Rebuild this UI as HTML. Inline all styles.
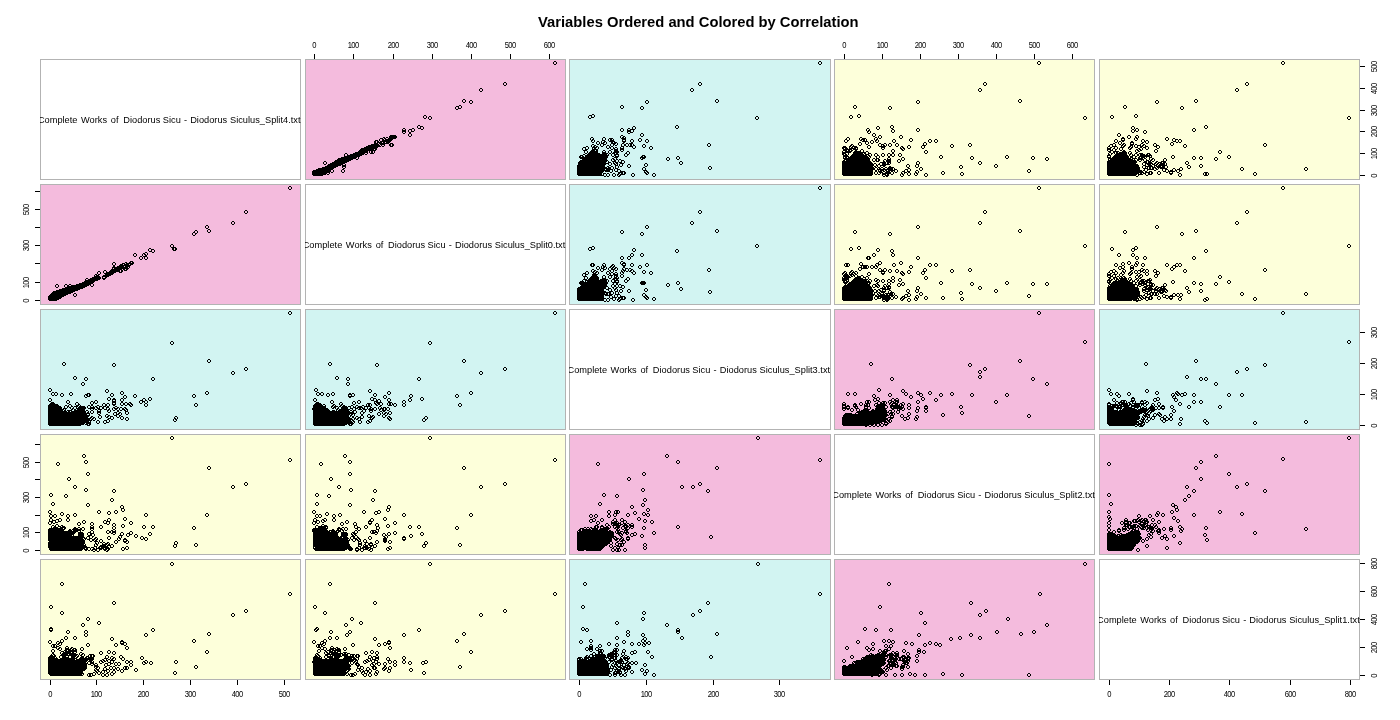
<!DOCTYPE html>
<html><head><meta charset="utf-8"><title>Variables Ordered and Colored by Correlation</title>
<style>html,body{margin:0;padding:0;background:#fff}body{width:1400px;height:720px;overflow:hidden}svg{display:block}text{font-family:"Liberation Sans",Arial,sans-serif;fill:#000}.t{font-size:8px;text-anchor:middle;letter-spacing:-0.55px}.d{font-size:9.5px;text-anchor:middle;letter-spacing:0.02px}</style></head><body>
<svg width="1400" height="720" viewBox="0 0 1400 720">
<defs><path id="c" d="M1 0h2v1h-2zM0 1h1v2h-1zM3 1h1v2h-1zM1 3h2v1h-2z"/><clipPath id="k00"><rect x="41" y="60" width="259" height="119"/></clipPath><clipPath id="t00"><rect x="40" y="59" width="261" height="121"/></clipPath><clipPath id="k10"><rect x="41" y="185" width="259" height="119"/></clipPath><clipPath id="k20"><rect x="41" y="310" width="259" height="119"/></clipPath><clipPath id="k30"><rect x="41" y="435" width="259" height="119"/></clipPath><clipPath id="k40"><rect x="41" y="560" width="259" height="119"/></clipPath><clipPath id="k01"><rect x="306" y="60" width="259" height="119"/></clipPath><clipPath id="k11"><rect x="306" y="185" width="259" height="119"/></clipPath><clipPath id="t11"><rect x="305" y="184" width="261" height="121"/></clipPath><clipPath id="k21"><rect x="306" y="310" width="259" height="119"/></clipPath><clipPath id="k31"><rect x="306" y="435" width="259" height="119"/></clipPath><clipPath id="k41"><rect x="306" y="560" width="259" height="119"/></clipPath><clipPath id="k02"><rect x="570" y="60" width="260" height="119"/></clipPath><clipPath id="k12"><rect x="570" y="185" width="260" height="119"/></clipPath><clipPath id="k22"><rect x="570" y="310" width="260" height="119"/></clipPath><clipPath id="t22"><rect x="569" y="309" width="262" height="121"/></clipPath><clipPath id="k32"><rect x="570" y="435" width="260" height="119"/></clipPath><clipPath id="k42"><rect x="570" y="560" width="260" height="119"/></clipPath><clipPath id="k03"><rect x="835" y="60" width="259" height="119"/></clipPath><clipPath id="k13"><rect x="835" y="185" width="259" height="119"/></clipPath><clipPath id="k23"><rect x="835" y="310" width="259" height="119"/></clipPath><clipPath id="k33"><rect x="835" y="435" width="259" height="119"/></clipPath><clipPath id="t33"><rect x="834" y="434" width="261" height="121"/></clipPath><clipPath id="k43"><rect x="835" y="560" width="259" height="119"/></clipPath><clipPath id="k04"><rect x="1100" y="60" width="259" height="119"/></clipPath><clipPath id="k14"><rect x="1100" y="185" width="259" height="119"/></clipPath><clipPath id="k24"><rect x="1100" y="310" width="259" height="119"/></clipPath><clipPath id="k34"><rect x="1100" y="435" width="259" height="119"/></clipPath><clipPath id="k44"><rect x="1100" y="560" width="259" height="119"/></clipPath><clipPath id="t44"><rect x="1099" y="559" width="261" height="121"/></clipPath></defs>
<rect width="1400" height="720" fill="#fff"/>
<text x="698.3" y="27.3" text-anchor="middle" font-size="14.75px" font-weight="bold">Variables Ordered and Colored by Correlation</text>
<g shape-rendering="crispEdges"><rect x="40.5" y="59.5" width="260" height="120" fill="#fff" stroke="#b3b3b3"/></g>
<g clip-path="url(#t00)"><text class="d" style="text-anchor:start" xml:space="preserve" transform="translate(0,122.9) scale(0.972,1.04)" y="0"><tspan x="38.98">Complete </tspan><tspan x="83.38">Works </tspan><tspan x="114.03">of </tspan><tspan x="126.84">Diodorus </tspan><tspan x="167.48">Sicu </tspan><tspan x="189.29">- </tspan><tspan x="195.67">Diodorus </tspan><tspan x="236.62">Siculus_Split4.txt</tspan></text></g>
<g shape-rendering="crispEdges"><rect x="305.5" y="59.5" width="260" height="120" fill="#F4BBDD" stroke="#b3b3b3"/><g clip-path="url(#k01)"><path d="M374 143h4v1h-4zM371 144h8v1h-8zM368 145h11v1h-11zM366 146h12v1h-12zM364 147h13v1h-13zM362 148h13v1h-13zM361 149h11v1h-11zM359 150h11v1h-11zM358 151h10v1h-10zM355 152h12v1h-12zM353 153h12v1h-12zM350 154h14v1h-14zM347 155h15v1h-15zM344 156h16v1h-16zM341 157h16v1h-16zM338 158h17v1h-17zM337 159h16v1h-16zM335 160h16v1h-16zM334 161h15v1h-15zM332 162h15v1h-15zM330 163h15v1h-15zM328 164h15v1h-15zM327 165h14v1h-14zM325 166h13v1h-13zM322 167h14v1h-14zM318 168h16v1h-16zM316 169h17v1h-17zM313 170h18v1h-18zM312 171h18v1h-18zM312 172h17v1h-17zM312 173h15v1h-15zM312 174h14v1h-14zM313 175h10v1h-10z"/><use href="#c" x="553" y="61"/><use href="#c" x="503" y="82"/><use href="#c" x="479" y="88"/><use href="#c" x="469" y="100"/><use href="#c" x="462" y="99"/><use href="#c" x="458" y="105"/><use href="#c" x="455" y="106"/><use href="#c" x="323" y="161"/><use href="#c" x="344" y="153"/><use href="#c" x="342" y="165"/><use href="#c" x="341" y="169"/><use href="#c" x="330" y="169"/><use href="#c" x="326" y="171"/><use href="#c" x="355" y="156"/><use href="#c" x="360" y="148"/><use href="#c" x="364" y="151"/><use href="#c" x="369" y="150"/><use href="#c" x="373" y="147"/><use href="#c" x="375" y="140"/><use href="#c" x="390" y="143"/><use href="#c" x="386" y="140"/><use href="#c" x="393" y="135"/><use href="#c" x="402" y="128"/><use href="#c" x="402" y="130"/><use href="#c" x="408" y="129"/><use href="#c" x="411" y="128"/><use href="#c" x="408" y="133"/><use href="#c" x="417" y="125"/><use href="#c" x="420" y="126"/><use href="#c" x="423" y="115"/><use href="#c" x="428" y="116"/><use href="#c" x="379" y="138"/><use href="#c" x="382" y="137"/><use href="#c" x="383" y="138"/><use href="#c" x="380" y="141"/><use href="#c" x="378" y="143"/><use href="#c" x="381" y="143"/><use href="#c" x="389" y="136"/><use href="#c" x="391" y="135"/><use href="#c" x="388" y="137"/><use href="#c" x="385" y="137"/><use href="#c" x="377" y="142"/><use href="#c" x="375" y="144"/><use href="#c" x="384" y="140"/><use href="#c" x="387" y="139"/><use href="#c" x="389" y="143"/><use href="#c" x="371" y="150"/><use href="#c" x="372" y="147"/><use href="#c" x="381" y="141"/><use href="#c" x="374" y="140"/><use href="#c" x="385" y="139"/><use href="#c" x="389" y="137"/><use href="#c" x="389" y="135"/><use href="#c" x="392" y="135"/><use href="#c" x="342" y="163"/></g></g>
<g shape-rendering="crispEdges"><rect x="569.5" y="59.5" width="261" height="120" fill="#D2F4F2" stroke="#b3b3b3"/><g clip-path="url(#k02)"><path d="M593 147h2v1h-2zM592 148h1v1h-1zM595 148h1v1h-1zM592 149h4v1h-4zM591 150h4v1h-4zM596 150h1v1h-1zM590 151h7v1h-7zM590 152h8v1h-8zM603 152h2v1h-2zM589 153h11v1h-11zM602 153h1v1h-1zM604 153h2v1h-2zM587 154h20v1h-20zM586 155h22v1h-22zM585 156h23v1h-23zM584 157h23v1h-23zM583 158h24v1h-24zM582 159h25v1h-25zM580 160h27v1h-27zM579 161h28v1h-28zM578 162h28v1h-28zM578 163h28v1h-28zM578 164h28v1h-28zM577 165h28v1h-28zM577 166h28v1h-28zM577 167h28v1h-28zM577 168h28v1h-28zM577 169h28v1h-28zM577 170h28v1h-28zM577 171h27v1h-27zM577 172h26v1h-26zM577 173h25v1h-25zM603 173h1v1h-1zM577 174h25v1h-25zM603 174h1v1h-1zM578 175h25v1h-25z"/><use href="#c" x="818" y="61"/><use href="#c" x="698" y="82"/><use href="#c" x="690" y="88"/><use href="#c" x="715" y="99"/><use href="#c" x="645" y="100"/><use href="#c" x="640" y="106"/><use href="#c" x="620" y="105"/><use href="#c" x="755" y="116"/><use href="#c" x="707" y="143"/><use href="#c" x="708" y="166"/><use href="#c" x="588" y="115"/><use href="#c" x="591" y="114"/><use href="#c" x="675" y="125"/><use href="#c" x="620" y="128"/><use href="#c" x="627" y="128"/><use href="#c" x="627" y="130"/><use href="#c" x="630" y="129"/><use href="#c" x="632" y="126"/><use href="#c" x="640" y="133"/><use href="#c" x="620" y="135"/><use href="#c" x="622" y="136"/><use href="#c" x="622" y="138"/><use href="#c" x="622" y="139"/><use href="#c" x="638" y="138"/><use href="#c" x="645" y="139"/><use href="#c" x="630" y="139"/><use href="#c" x="590" y="137"/><use href="#c" x="591" y="139"/><use href="#c" x="602" y="137"/><use href="#c" x="601" y="140"/><use href="#c" x="596" y="141"/><use href="#c" x="600" y="143"/><use href="#c" x="603" y="141"/><use href="#c" x="608" y="138"/><use href="#c" x="610" y="138"/><use href="#c" x="611" y="140"/><use href="#c" x="612" y="141"/><use href="#c" x="614" y="142"/><use href="#c" x="610" y="143"/><use href="#c" x="606" y="145"/><use href="#c" x="610" y="146"/><use href="#c" x="621" y="143"/><use href="#c" x="625" y="143"/><use href="#c" x="628" y="143"/><use href="#c" x="630" y="143"/><use href="#c" x="632" y="145"/><use href="#c" x="620" y="146"/><use href="#c" x="620" y="148"/><use href="#c" x="642" y="144"/><use href="#c" x="649" y="146"/><use href="#c" x="614" y="147"/><use href="#c" x="614" y="149"/><use href="#c" x="614" y="151"/><use href="#c" x="626" y="151"/><use href="#c" x="624" y="153"/><use href="#c" x="582" y="147"/><use href="#c" x="585" y="146"/><use href="#c" x="591" y="144"/><use href="#c" x="593" y="145"/><use href="#c" x="595" y="146"/><use href="#c" x="579" y="155"/><use href="#c" x="641" y="155"/><use href="#c" x="642" y="155"/><use href="#c" x="640" y="156"/><use href="#c" x="666" y="157"/><use href="#c" x="676" y="156"/><use href="#c" x="679" y="161"/><use href="#c" x="615" y="153"/><use href="#c" x="611" y="153"/><use href="#c" x="618" y="159"/><use href="#c" x="613" y="157"/><use href="#c" x="611" y="158"/><use href="#c" x="613" y="161"/><use href="#c" x="627" y="164"/><use href="#c" x="644" y="163"/><use href="#c" x="642" y="167"/><use href="#c" x="644" y="170"/><use href="#c" x="645" y="171"/><use href="#c" x="615" y="165"/><use href="#c" x="608" y="162"/><use href="#c" x="606" y="168"/><use href="#c" x="609" y="169"/><use href="#c" x="614" y="168"/><use href="#c" x="617" y="169"/><use href="#c" x="619" y="171"/><use href="#c" x="622" y="171"/><use href="#c" x="612" y="173"/><use href="#c" x="617" y="173"/><use href="#c" x="631" y="173"/><use href="#c" x="652" y="173"/><use href="#c" x="606" y="173"/><use href="#c" x="603" y="173"/><use href="#c" x="618" y="172"/><use href="#c" x="606" y="166"/><use href="#c" x="621" y="171"/><use href="#c" x="605" y="160"/><use href="#c" x="621" y="160"/><use href="#c" x="610" y="166"/><use href="#c" x="619" y="163"/><use href="#c" x="601" y="155"/><use href="#c" x="604" y="168"/><use href="#c" x="607" y="167"/><use href="#c" x="604" y="155"/><use href="#c" x="605" y="153"/><use href="#c" x="615" y="159"/><use href="#c" x="603" y="167"/><use href="#c" x="614" y="162"/><use href="#c" x="613" y="151"/><use href="#c" x="608" y="150"/><use href="#c" x="600" y="158"/><use href="#c" x="599" y="155"/><use href="#c" x="581" y="156"/><use href="#c" x="588" y="155"/><use href="#c" x="615" y="154"/><use href="#c" x="589" y="154"/><use href="#c" x="590" y="153"/><use href="#c" x="597" y="156"/><use href="#c" x="602" y="150"/><use href="#c" x="615" y="150"/><use href="#c" x="589" y="156"/><use href="#c" x="584" y="150"/><use href="#c" x="595" y="156"/><use href="#c" x="586" y="155"/><use href="#c" x="588" y="152"/><use href="#c" x="580" y="155"/><use href="#c" x="587" y="157"/><use href="#c" x="594" y="149"/><use href="#c" x="582" y="154"/></g></g>
<g shape-rendering="crispEdges"><rect x="834.5" y="59.5" width="260" height="120" fill="#FDFFDA" stroke="#b3b3b3"/><g clip-path="url(#k03)"><path d="M856 151h5v1h-5zM854 152h8v1h-8zM853 153h10v1h-10zM852 154h12v1h-12zM851 155h13v1h-13zM865 155h2v1h-2zM850 156h18v1h-18zM849 157h20v1h-20zM847 158h23v1h-23zM845 159h25v1h-25zM843 160h2v1h-2zM846 160h24v1h-24zM842 161h29v1h-29zM842 162h30v1h-30zM842 163h31v1h-31zM842 164h31v1h-31zM842 165h31v1h-31zM842 166h31v1h-31zM842 167h32v1h-32zM842 168h32v1h-32zM842 169h32v1h-32zM842 170h31v1h-31zM842 171h31v1h-31zM842 172h31v1h-31zM842 173h31v1h-31zM842 174h31v1h-31zM843 175h29v1h-29z"/><use href="#c" x="1037" y="61"/><use href="#c" x="983" y="82"/><use href="#c" x="978" y="88"/><use href="#c" x="1018" y="99"/><use href="#c" x="916" y="100"/><use href="#c" x="888" y="106"/><use href="#c" x="853" y="105"/><use href="#c" x="1083" y="116"/><use href="#c" x="978" y="161"/><use href="#c" x="994" y="164"/><use href="#c" x="1005" y="155"/><use href="#c" x="1031" y="156"/><use href="#c" x="1045" y="157"/><use href="#c" x="1027" y="169"/><use href="#c" x="849" y="115"/><use href="#c" x="857" y="114"/><use href="#c" x="876" y="126"/><use href="#c" x="890" y="125"/><use href="#c" x="891" y="129"/><use href="#c" x="916" y="128"/><use href="#c" x="866" y="128"/><use href="#c" x="867" y="130"/><use href="#c" x="872" y="133"/><use href="#c" x="874" y="137"/><use href="#c" x="878" y="135"/><use href="#c" x="875" y="139"/><use href="#c" x="899" y="135"/><use href="#c" x="909" y="138"/><use href="#c" x="892" y="139"/><use href="#c" x="895" y="143"/><use href="#c" x="888" y="143"/><use href="#c" x="844" y="139"/><use href="#c" x="846" y="137"/><use href="#c" x="859" y="137"/><use href="#c" x="861" y="138"/><use href="#c" x="863" y="138"/><use href="#c" x="865" y="141"/><use href="#c" x="870" y="140"/><use href="#c" x="867" y="145"/><use href="#c" x="858" y="142"/><use href="#c" x="878" y="143"/><use href="#c" x="881" y="144"/><use href="#c" x="883" y="143"/><use href="#c" x="881" y="146"/><use href="#c" x="928" y="139"/><use href="#c" x="934" y="139"/><use href="#c" x="923" y="142"/><use href="#c" x="921" y="145"/><use href="#c" x="924" y="150"/><use href="#c" x="950" y="144"/><use href="#c" x="968" y="143"/><use href="#c" x="907" y="145"/><use href="#c" x="900" y="146"/><use href="#c" x="901" y="147"/><use href="#c" x="842" y="146"/><use href="#c" x="843" y="147"/><use href="#c" x="850" y="144"/><use href="#c" x="854" y="146"/><use href="#c" x="845" y="149"/><use href="#c" x="848" y="148"/><use href="#c" x="860" y="149"/><use href="#c" x="865" y="151"/><use href="#c" x="891" y="149"/><use href="#c" x="891" y="153"/><use href="#c" x="887" y="153"/><use href="#c" x="881" y="153"/><use href="#c" x="874" y="153"/><use href="#c" x="898" y="153"/><use href="#c" x="901" y="157"/><use href="#c" x="897" y="159"/><use href="#c" x="887" y="157"/><use href="#c" x="887" y="159"/><use href="#c" x="939" y="155"/><use href="#c" x="970" y="156"/><use href="#c" x="843" y="155"/><use href="#c" x="916" y="161"/><use href="#c" x="915" y="164"/><use href="#c" x="919" y="167"/><use href="#c" x="906" y="164"/><use href="#c" x="907" y="168"/><use href="#c" x="904" y="169"/><use href="#c" x="901" y="171"/><use href="#c" x="900" y="173"/><use href="#c" x="907" y="172"/><use href="#c" x="915" y="170"/><use href="#c" x="914" y="172"/><use href="#c" x="924" y="173"/><use href="#c" x="941" y="171"/><use href="#c" x="959" y="165"/><use href="#c" x="960" y="172"/><use href="#c" x="891" y="167"/><use href="#c" x="894" y="169"/><use href="#c" x="886" y="168"/><use href="#c" x="890" y="171"/><use href="#c" x="885" y="173"/><use href="#c" x="882" y="163"/><use href="#c" x="879" y="162"/><use href="#c" x="883" y="159"/><use href="#c" x="875" y="158"/><use href="#c" x="880" y="167"/><use href="#c" x="876" y="155"/><use href="#c" x="874" y="171"/><use href="#c" x="884" y="172"/><use href="#c" x="886" y="169"/><use href="#c" x="884" y="167"/><use href="#c" x="885" y="172"/><use href="#c" x="873" y="163"/><use href="#c" x="877" y="171"/><use href="#c" x="872" y="158"/><use href="#c" x="878" y="169"/><use href="#c" x="880" y="169"/><use href="#c" x="877" y="164"/><use href="#c" x="874" y="167"/><use href="#c" x="882" y="171"/><use href="#c" x="882" y="173"/><use href="#c" x="876" y="158"/><use href="#c" x="887" y="167"/><use href="#c" x="886" y="171"/><use href="#c" x="882" y="162"/><use href="#c" x="888" y="166"/><use href="#c" x="882" y="161"/><use href="#c" x="885" y="161"/><use href="#c" x="889" y="167"/><use href="#c" x="887" y="161"/><use href="#c" x="882" y="168"/><use href="#c" x="878" y="168"/><use href="#c" x="848" y="149"/><use href="#c" x="854" y="147"/><use href="#c" x="850" y="147"/><use href="#c" x="843" y="146"/><use href="#c" x="862" y="152"/><use href="#c" x="867" y="155"/><use href="#c" x="843" y="156"/><use href="#c" x="857" y="151"/><use href="#c" x="843" y="153"/><use href="#c" x="842" y="150"/><use href="#c" x="863" y="153"/><use href="#c" x="846" y="156"/><use href="#c" x="846" y="149"/><use href="#c" x="842" y="152"/><use href="#c" x="845" y="148"/><use href="#c" x="845" y="156"/><use href="#c" x="849" y="145"/><use href="#c" x="853" y="151"/><use href="#c" x="868" y="153"/><use href="#c" x="852" y="146"/><use href="#c" x="845" y="152"/></g></g>
<g shape-rendering="crispEdges"><rect x="1099.5" y="59.5" width="260" height="120" fill="#FDFFDA" stroke="#b3b3b3"/><g clip-path="url(#k04)"><path d="M1122 151h2v1h-2zM1119 152h6v1h-6zM1117 153h2v1h-2zM1120 153h6v1h-6zM1115 154h12v1h-12zM1114 155h14v1h-14zM1113 156h16v1h-16zM1112 157h17v1h-17zM1130 157h2v1h-2zM1111 158h20v1h-20zM1132 158h1v1h-1zM1110 159h23v1h-23zM1108 160h28v1h-28zM1107 161h30v1h-30zM1107 162h30v1h-30zM1107 163h29v1h-29zM1107 164h31v1h-31zM1107 165h32v1h-32zM1107 166h32v1h-32zM1107 167h33v1h-33zM1107 168h33v1h-33zM1107 169h33v1h-33zM1107 170h33v1h-33zM1107 171h32v1h-32zM1107 172h32v1h-32zM1107 173h31v1h-31zM1107 174h30v1h-30zM1108 175h28v1h-28z"/><use href="#c" x="1281" y="61"/><use href="#c" x="1245" y="82"/><use href="#c" x="1235" y="88"/><use href="#c" x="1194" y="99"/><use href="#c" x="1155" y="100"/><use href="#c" x="1180" y="106"/><use href="#c" x="1123" y="105"/><use href="#c" x="1347" y="116"/><use href="#c" x="1263" y="143"/><use href="#c" x="1240" y="167"/><use href="#c" x="1253" y="172"/><use href="#c" x="1304" y="167"/><use href="#c" x="1110" y="115"/><use href="#c" x="1134" y="114"/><use href="#c" x="1131" y="126"/><use href="#c" x="1131" y="129"/><use href="#c" x="1135" y="128"/><use href="#c" x="1143" y="130"/><use href="#c" x="1192" y="128"/><use href="#c" x="1204" y="125"/><use href="#c" x="1117" y="133"/><use href="#c" x="1127" y="135"/><use href="#c" x="1135" y="135"/><use href="#c" x="1134" y="137"/><use href="#c" x="1121" y="137"/><use href="#c" x="1121" y="138"/><use href="#c" x="1114" y="139"/><use href="#c" x="1118" y="141"/><use href="#c" x="1122" y="143"/><use href="#c" x="1130" y="141"/><use href="#c" x="1130" y="142"/><use href="#c" x="1129" y="145"/><use href="#c" x="1134" y="144"/><use href="#c" x="1137" y="145"/><use href="#c" x="1137" y="148"/><use href="#c" x="1141" y="139"/><use href="#c" x="1145" y="140"/><use href="#c" x="1140" y="143"/><use href="#c" x="1142" y="144"/><use href="#c" x="1145" y="146"/><use href="#c" x="1165" y="137"/><use href="#c" x="1172" y="138"/><use href="#c" x="1175" y="139"/><use href="#c" x="1178" y="139"/><use href="#c" x="1170" y="142"/><use href="#c" x="1183" y="144"/><use href="#c" x="1153" y="143"/><use href="#c" x="1156" y="145"/><use href="#c" x="1154" y="149"/><use href="#c" x="1109" y="144"/><use href="#c" x="1107" y="146"/><use href="#c" x="1107" y="148"/><use href="#c" x="1114" y="146"/><use href="#c" x="1112" y="148"/><use href="#c" x="1119" y="147"/><use href="#c" x="1218" y="150"/><use href="#c" x="1227" y="155"/><use href="#c" x="1214" y="157"/><use href="#c" x="1171" y="155"/><use href="#c" x="1192" y="156"/><use href="#c" x="1199" y="156"/><use href="#c" x="1199" y="164"/><use href="#c" x="1185" y="161"/><use href="#c" x="1187" y="165"/><use href="#c" x="1163" y="158"/><use href="#c" x="1161" y="161"/><use href="#c" x="1157" y="162"/><use href="#c" x="1160" y="164"/><use href="#c" x="1107" y="155"/><use href="#c" x="1134" y="153"/><use href="#c" x="1129" y="153"/><use href="#c" x="1140" y="153"/><use href="#c" x="1146" y="153"/><use href="#c" x="1148" y="154"/><use href="#c" x="1141" y="156"/><use href="#c" x="1143" y="158"/><use href="#c" x="1149" y="157"/><use href="#c" x="1151" y="158"/><use href="#c" x="1146" y="160"/><use href="#c" x="1145" y="163"/><use href="#c" x="1151" y="164"/><use href="#c" x="1153" y="167"/><use href="#c" x="1147" y="166"/><use href="#c" x="1144" y="168"/><use href="#c" x="1149" y="171"/><use href="#c" x="1145" y="172"/><use href="#c" x="1140" y="171"/><use href="#c" x="1135" y="173"/><use href="#c" x="1142" y="170"/><use href="#c" x="1157" y="171"/><use href="#c" x="1162" y="168"/><use href="#c" x="1165" y="169"/><use href="#c" x="1169" y="170"/><use href="#c" x="1169" y="171"/><use href="#c" x="1172" y="168"/><use href="#c" x="1176" y="169"/><use href="#c" x="1179" y="167"/><use href="#c" x="1178" y="173"/><use href="#c" x="1203" y="172"/><use href="#c" x="1205" y="172"/><use href="#c" x="1138" y="171"/><use href="#c" x="1150" y="166"/><use href="#c" x="1148" y="161"/><use href="#c" x="1142" y="162"/><use href="#c" x="1142" y="154"/><use href="#c" x="1139" y="170"/><use href="#c" x="1148" y="171"/><use href="#c" x="1132" y="155"/><use href="#c" x="1147" y="162"/><use href="#c" x="1142" y="165"/><use href="#c" x="1138" y="153"/><use href="#c" x="1121" y="144"/><use href="#c" x="1128" y="146"/><use href="#c" x="1135" y="149"/><use href="#c" x="1139" y="147"/><use href="#c" x="1112" y="143"/><use href="#c" x="1108" y="152"/><use href="#c" x="1149" y="166"/><use href="#c" x="1154" y="165"/><use href="#c" x="1156" y="163"/><use href="#c" x="1154" y="162"/><use href="#c" x="1149" y="162"/><use href="#c" x="1160" y="161"/><use href="#c" x="1147" y="153"/><use href="#c" x="1141" y="154"/><use href="#c" x="1143" y="155"/><use href="#c" x="1138" y="156"/><use href="#c" x="1123" y="151"/><use href="#c" x="1128" y="151"/><use href="#c" x="1110" y="150"/><use href="#c" x="1107" y="154"/><use href="#c" x="1139" y="156"/><use href="#c" x="1116" y="151"/><use href="#c" x="1138" y="158"/><use href="#c" x="1134" y="158"/><use href="#c" x="1122" y="150"/><use href="#c" x="1114" y="151"/><use href="#c" x="1108" y="158"/><use href="#c" x="1145" y="160"/><use href="#c" x="1155" y="161"/><use href="#c" x="1163" y="162"/><use href="#c" x="1164" y="165"/><use href="#c" x="1161" y="163"/><use href="#c" x="1159" y="165"/><use href="#c" x="1160" y="165"/><use href="#c" x="1155" y="166"/></g></g>
<g shape-rendering="crispEdges"><rect x="40.5" y="184.5" width="260" height="120" fill="#F4BBDD" stroke="#b3b3b3"/><g clip-path="url(#k10)"><path d="M121 265h2v1h-2zM118 266h3v1h-3zM123 266h1v1h-1zM116 267h3v1h-3zM120 267h2v1h-2zM123 267h1v1h-1zM114 268h9v1h-9zM112 269h9v1h-9zM110 270h9v1h-9zM109 271h9v1h-9zM107 272h9v1h-9zM106 273h8v1h-8zM105 274h8v1h-8zM96 275h3v1h-3zM103 275h8v1h-8zM94 276h6v1h-6zM102 276h1v1h-1zM104 276h5v1h-5zM92 277h9v1h-9zM102 277h1v1h-1zM105 277h2v1h-2zM90 278h11v1h-11zM103 278h2v1h-2zM88 279h12v1h-12zM86 280h12v1h-12zM84 281h11v1h-11zM82 282h12v1h-12zM79 283h14v1h-14zM76 284h15v1h-15zM72 285h17v1h-17zM68 286h19v1h-19zM65 287h20v1h-20zM62 288h21v1h-21zM59 289h21v1h-21zM57 290h21v1h-21zM55 291h20v1h-20zM53 292h20v1h-20zM51 293h20v1h-20zM50 294h18v1h-18zM49 295h17v1h-17zM48 296h16v1h-16zM48 297h14v1h-14zM48 298h13v1h-13zM48 299h11v1h-11zM49 300h8v1h-8z"/><use href="#c" x="112" y="262"/><use href="#c" x="97" y="271"/><use href="#c" x="103" y="270"/><use href="#c" x="116" y="266"/><use href="#c" x="118" y="269"/><use href="#c" x="120" y="264"/><use href="#c" x="123" y="267"/><use href="#c" x="124" y="262"/><use href="#c" x="128" y="262"/><use href="#c" x="130" y="261"/><use href="#c" x="68" y="284"/><use href="#c" x="288" y="186"/><use href="#c" x="244" y="210"/><use href="#c" x="231" y="221"/><use href="#c" x="205" y="225"/><use href="#c" x="207" y="229"/><use href="#c" x="194" y="230"/><use href="#c" x="192" y="232"/><use href="#c" x="73" y="293"/><use href="#c" x="90" y="283"/><use href="#c" x="64" y="284"/><use href="#c" x="55" y="284"/><use href="#c" x="55" y="290"/><use href="#c" x="52" y="291"/><use href="#c" x="85" y="278"/><use href="#c" x="102" y="276"/><use href="#c" x="94" y="274"/><use href="#c" x="119" y="269"/><use href="#c" x="119" y="264"/><use href="#c" x="129" y="261"/><use href="#c" x="144" y="256"/><use href="#c" x="139" y="256"/><use href="#c" x="142" y="253"/><use href="#c" x="144" y="252"/><use href="#c" x="133" y="253"/><use href="#c" x="151" y="249"/><use href="#c" x="148" y="248"/><use href="#c" x="173" y="247"/><use href="#c" x="172" y="247"/><use href="#c" x="170" y="244"/><use href="#c" x="124" y="267"/><use href="#c" x="126" y="265"/><use href="#c" x="123" y="265"/><use href="#c" x="112" y="267"/><use href="#c" x="112" y="266"/><use href="#c" x="125" y="263"/><use href="#c" x="125" y="264"/><use href="#c" x="114" y="268"/><use href="#c" x="110" y="269"/><use href="#c" x="118" y="265"/><use href="#c" x="121" y="263"/></g></g>
<g shape-rendering="crispEdges"><rect x="305.5" y="184.5" width="260" height="120" fill="#fff" stroke="#b3b3b3"/></g>
<g clip-path="url(#t11)"><text class="d" style="text-anchor:start" xml:space="preserve" transform="translate(0,247.9) scale(0.972,1.04)" y="0"><tspan x="311.40">Complete </tspan><tspan x="355.80">Works </tspan><tspan x="386.46">of </tspan><tspan x="399.27">Diodorus </tspan><tspan x="439.90">Sicu </tspan><tspan x="461.71">- </tspan><tspan x="468.09">Diodorus </tspan><tspan x="509.04">Siculus_Split0.txt</tspan></text></g>
<g shape-rendering="crispEdges"><rect x="569.5" y="184.5" width="261" height="120" fill="#D2F4F2" stroke="#b3b3b3"/><g clip-path="url(#k12)"><path d="M593 273h3v1h-3zM592 274h5v1h-5zM592 275h5v1h-5zM591 276h7v1h-7zM590 277h9v1h-9zM590 278h9v1h-9zM602 278h4v1h-4zM588 279h11v1h-11zM600 279h7v1h-7zM586 280h21v1h-21zM585 281h1v1h-1zM587 281h20v1h-20zM585 282h22v1h-22zM584 283h23v1h-23zM583 284h24v1h-24zM581 285h26v1h-26zM580 286h26v1h-26zM578 287h28v1h-28zM577 288h28v1h-28zM577 289h27v1h-27zM577 290h27v1h-27zM577 291h28v1h-28zM577 292h28v1h-28zM577 293h28v1h-28zM577 294h27v1h-27zM577 295h27v1h-27zM577 296h27v1h-27zM577 297h27v1h-27zM577 298h27v1h-27zM577 299h27v1h-27zM578 300h25v1h-25z"/><use href="#c" x="818" y="186"/><use href="#c" x="698" y="210"/><use href="#c" x="690" y="221"/><use href="#c" x="715" y="229"/><use href="#c" x="645" y="225"/><use href="#c" x="640" y="232"/><use href="#c" x="620" y="230"/><use href="#c" x="755" y="244"/><use href="#c" x="707" y="268"/><use href="#c" x="708" y="290"/><use href="#c" x="588" y="247"/><use href="#c" x="591" y="246"/><use href="#c" x="675" y="249"/><use href="#c" x="620" y="256"/><use href="#c" x="627" y="256"/><use href="#c" x="630" y="253"/><use href="#c" x="632" y="248"/><use href="#c" x="640" y="253"/><use href="#c" x="620" y="261"/><use href="#c" x="622" y="262"/><use href="#c" x="622" y="267"/><use href="#c" x="622" y="263"/><use href="#c" x="638" y="265"/><use href="#c" x="645" y="263"/><use href="#c" x="630" y="263"/><use href="#c" x="590" y="263"/><use href="#c" x="591" y="263"/><use href="#c" x="602" y="263"/><use href="#c" x="601" y="265"/><use href="#c" x="596" y="266"/><use href="#c" x="600" y="268"/><use href="#c" x="603" y="266"/><use href="#c" x="608" y="267"/><use href="#c" x="610" y="265"/><use href="#c" x="611" y="264"/><use href="#c" x="612" y="266"/><use href="#c" x="614" y="267"/><use href="#c" x="610" y="269"/><use href="#c" x="606" y="271"/><use href="#c" x="610" y="272"/><use href="#c" x="621" y="269"/><use href="#c" x="625" y="268"/><use href="#c" x="628" y="268"/><use href="#c" x="630" y="269"/><use href="#c" x="632" y="271"/><use href="#c" x="620" y="271"/><use href="#c" x="620" y="274"/><use href="#c" x="642" y="270"/><use href="#c" x="649" y="271"/><use href="#c" x="614" y="272"/><use href="#c" x="614" y="274"/><use href="#c" x="614" y="277"/><use href="#c" x="626" y="277"/><use href="#c" x="624" y="279"/><use href="#c" x="582" y="273"/><use href="#c" x="585" y="271"/><use href="#c" x="591" y="269"/><use href="#c" x="593" y="270"/><use href="#c" x="595" y="271"/><use href="#c" x="579" y="281"/><use href="#c" x="641" y="281"/><use href="#c" x="642" y="281"/><use href="#c" x="640" y="281"/><use href="#c" x="666" y="283"/><use href="#c" x="676" y="281"/><use href="#c" x="679" y="287"/><use href="#c" x="615" y="279"/><use href="#c" x="611" y="279"/><use href="#c" x="618" y="284"/><use href="#c" x="613" y="282"/><use href="#c" x="611" y="284"/><use href="#c" x="613" y="286"/><use href="#c" x="627" y="289"/><use href="#c" x="644" y="288"/><use href="#c" x="642" y="293"/><use href="#c" x="644" y="295"/><use href="#c" x="645" y="296"/><use href="#c" x="615" y="291"/><use href="#c" x="608" y="288"/><use href="#c" x="606" y="292"/><use href="#c" x="609" y="295"/><use href="#c" x="614" y="294"/><use href="#c" x="617" y="294"/><use href="#c" x="619" y="296"/><use href="#c" x="622" y="296"/><use href="#c" x="612" y="297"/><use href="#c" x="617" y="298"/><use href="#c" x="631" y="298"/><use href="#c" x="652" y="297"/><use href="#c" x="606" y="298"/><use href="#c" x="603" y="298"/><use href="#c" x="618" y="297"/><use href="#c" x="621" y="296"/><use href="#c" x="605" y="286"/><use href="#c" x="621" y="285"/><use href="#c" x="610" y="291"/><use href="#c" x="619" y="289"/><use href="#c" x="601" y="280"/><use href="#c" x="604" y="292"/><use href="#c" x="607" y="292"/><use href="#c" x="604" y="281"/><use href="#c" x="605" y="279"/><use href="#c" x="615" y="284"/><use href="#c" x="603" y="291"/><use href="#c" x="614" y="288"/><use href="#c" x="613" y="277"/><use href="#c" x="608" y="275"/><use href="#c" x="600" y="283"/><use href="#c" x="599" y="280"/><use href="#c" x="581" y="281"/><use href="#c" x="588" y="280"/><use href="#c" x="615" y="280"/><use href="#c" x="589" y="279"/><use href="#c" x="590" y="279"/><use href="#c" x="597" y="282"/><use href="#c" x="602" y="275"/><use href="#c" x="615" y="276"/><use href="#c" x="589" y="281"/><use href="#c" x="584" y="276"/><use href="#c" x="595" y="282"/><use href="#c" x="586" y="281"/><use href="#c" x="588" y="278"/><use href="#c" x="580" y="281"/><use href="#c" x="587" y="281"/><use href="#c" x="594" y="275"/><use href="#c" x="582" y="279"/></g></g>
<g shape-rendering="crispEdges"><rect x="834.5" y="184.5" width="260" height="120" fill="#FDFFDA" stroke="#b3b3b3"/><g clip-path="url(#k13)"><path d="M857 276h2v1h-2zM855 277h5v1h-5zM854 278h9v1h-9zM853 279h12v1h-12zM852 280h15v1h-15zM851 281h17v1h-17zM849 282h20v1h-20zM848 283h20v1h-20zM869 283h1v1h-1zM847 284h23v1h-23zM844 285h26v1h-26zM843 286h28v1h-28zM842 287h30v1h-30zM842 288h30v1h-30zM842 289h31v1h-31zM842 290h31v1h-31zM842 291h31v1h-31zM842 292h31v1h-31zM842 293h31v1h-31zM842 294h32v1h-32zM842 295h32v1h-32zM842 296h31v1h-31zM842 297h31v1h-31zM842 298h31v1h-31zM842 299h31v1h-31zM843 300h29v1h-29z"/><use href="#c" x="1037" y="186"/><use href="#c" x="983" y="210"/><use href="#c" x="978" y="221"/><use href="#c" x="1018" y="229"/><use href="#c" x="916" y="225"/><use href="#c" x="888" y="232"/><use href="#c" x="853" y="230"/><use href="#c" x="1083" y="244"/><use href="#c" x="978" y="286"/><use href="#c" x="994" y="289"/><use href="#c" x="1005" y="281"/><use href="#c" x="1031" y="282"/><use href="#c" x="1045" y="282"/><use href="#c" x="1027" y="294"/><use href="#c" x="849" y="247"/><use href="#c" x="857" y="246"/><use href="#c" x="876" y="248"/><use href="#c" x="890" y="249"/><use href="#c" x="891" y="253"/><use href="#c" x="916" y="256"/><use href="#c" x="866" y="256"/><use href="#c" x="867" y="256"/><use href="#c" x="872" y="253"/><use href="#c" x="874" y="265"/><use href="#c" x="878" y="261"/><use href="#c" x="875" y="263"/><use href="#c" x="899" y="261"/><use href="#c" x="909" y="265"/><use href="#c" x="892" y="263"/><use href="#c" x="895" y="269"/><use href="#c" x="888" y="269"/><use href="#c" x="844" y="263"/><use href="#c" x="846" y="263"/><use href="#c" x="859" y="262"/><use href="#c" x="861" y="265"/><use href="#c" x="863" y="265"/><use href="#c" x="865" y="265"/><use href="#c" x="870" y="265"/><use href="#c" x="867" y="272"/><use href="#c" x="858" y="267"/><use href="#c" x="878" y="268"/><use href="#c" x="881" y="270"/><use href="#c" x="883" y="268"/><use href="#c" x="881" y="271"/><use href="#c" x="928" y="263"/><use href="#c" x="934" y="263"/><use href="#c" x="923" y="268"/><use href="#c" x="921" y="271"/><use href="#c" x="924" y="276"/><use href="#c" x="950" y="269"/><use href="#c" x="968" y="268"/><use href="#c" x="907" y="270"/><use href="#c" x="900" y="271"/><use href="#c" x="901" y="272"/><use href="#c" x="842" y="272"/><use href="#c" x="843" y="274"/><use href="#c" x="850" y="270"/><use href="#c" x="854" y="271"/><use href="#c" x="845" y="276"/><use href="#c" x="848" y="274"/><use href="#c" x="860" y="275"/><use href="#c" x="865" y="276"/><use href="#c" x="891" y="276"/><use href="#c" x="891" y="279"/><use href="#c" x="887" y="279"/><use href="#c" x="881" y="279"/><use href="#c" x="874" y="278"/><use href="#c" x="898" y="278"/><use href="#c" x="901" y="282"/><use href="#c" x="897" y="283"/><use href="#c" x="887" y="282"/><use href="#c" x="887" y="285"/><use href="#c" x="939" y="281"/><use href="#c" x="970" y="282"/><use href="#c" x="843" y="280"/><use href="#c" x="916" y="286"/><use href="#c" x="915" y="289"/><use href="#c" x="919" y="292"/><use href="#c" x="906" y="289"/><use href="#c" x="907" y="293"/><use href="#c" x="904" y="294"/><use href="#c" x="901" y="296"/><use href="#c" x="900" y="297"/><use href="#c" x="907" y="298"/><use href="#c" x="915" y="295"/><use href="#c" x="914" y="297"/><use href="#c" x="924" y="296"/><use href="#c" x="941" y="296"/><use href="#c" x="959" y="291"/><use href="#c" x="960" y="297"/><use href="#c" x="891" y="292"/><use href="#c" x="894" y="295"/><use href="#c" x="886" y="293"/><use href="#c" x="890" y="296"/><use href="#c" x="885" y="298"/><use href="#c" x="882" y="288"/><use href="#c" x="879" y="288"/><use href="#c" x="883" y="284"/><use href="#c" x="875" y="283"/><use href="#c" x="880" y="292"/><use href="#c" x="876" y="279"/><use href="#c" x="874" y="296"/><use href="#c" x="884" y="297"/><use href="#c" x="886" y="295"/><use href="#c" x="884" y="293"/><use href="#c" x="885" y="297"/><use href="#c" x="873" y="289"/><use href="#c" x="877" y="295"/><use href="#c" x="872" y="284"/><use href="#c" x="878" y="295"/><use href="#c" x="880" y="294"/><use href="#c" x="877" y="289"/><use href="#c" x="874" y="292"/><use href="#c" x="882" y="296"/><use href="#c" x="882" y="298"/><use href="#c" x="876" y="284"/><use href="#c" x="887" y="293"/><use href="#c" x="886" y="297"/><use href="#c" x="882" y="289"/><use href="#c" x="888" y="290"/><use href="#c" x="882" y="286"/><use href="#c" x="885" y="286"/><use href="#c" x="889" y="292"/><use href="#c" x="887" y="286"/><use href="#c" x="882" y="294"/><use href="#c" x="878" y="293"/><use href="#c" x="854" y="274"/><use href="#c" x="850" y="273"/><use href="#c" x="843" y="271"/><use href="#c" x="862" y="277"/><use href="#c" x="867" y="281"/><use href="#c" x="857" y="276"/><use href="#c" x="843" y="279"/><use href="#c" x="842" y="276"/><use href="#c" x="863" y="279"/><use href="#c" x="846" y="281"/><use href="#c" x="846" y="275"/><use href="#c" x="842" y="278"/><use href="#c" x="845" y="274"/><use href="#c" x="845" y="282"/><use href="#c" x="849" y="271"/><use href="#c" x="853" y="278"/><use href="#c" x="868" y="279"/><use href="#c" x="852" y="272"/><use href="#c" x="845" y="278"/></g></g>
<g shape-rendering="crispEdges"><rect x="1099.5" y="184.5" width="260" height="120" fill="#FDFFDA" stroke="#b3b3b3"/><g clip-path="url(#k14)"><path d="M1121 277h2v1h-2zM1119 278h6v1h-6zM1116 279h3v1h-3zM1120 279h6v1h-6zM1115 280h2v1h-2zM1118 280h10v1h-10zM1113 281h16v1h-16zM1112 282h19v1h-19zM1111 283h22v1h-22zM1110 284h24v1h-24zM1110 285h25v1h-25zM1108 286h27v1h-27zM1107 287h31v1h-31zM1107 288h32v1h-32zM1107 289h32v1h-32zM1107 290h32v1h-32zM1107 291h33v1h-33zM1107 292h33v1h-33zM1107 293h33v1h-33zM1107 294h33v1h-33zM1107 295h33v1h-33zM1107 296h32v1h-32zM1107 297h31v1h-31zM1107 298h31v1h-31zM1107 299h30v1h-30zM1108 300h24v1h-24zM1133 300h3v1h-3z"/><use href="#c" x="1281" y="186"/><use href="#c" x="1245" y="210"/><use href="#c" x="1235" y="221"/><use href="#c" x="1194" y="229"/><use href="#c" x="1155" y="225"/><use href="#c" x="1180" y="232"/><use href="#c" x="1123" y="230"/><use href="#c" x="1347" y="244"/><use href="#c" x="1263" y="268"/><use href="#c" x="1240" y="292"/><use href="#c" x="1253" y="297"/><use href="#c" x="1304" y="292"/><use href="#c" x="1110" y="247"/><use href="#c" x="1134" y="246"/><use href="#c" x="1131" y="248"/><use href="#c" x="1131" y="253"/><use href="#c" x="1135" y="256"/><use href="#c" x="1143" y="256"/><use href="#c" x="1192" y="256"/><use href="#c" x="1204" y="249"/><use href="#c" x="1117" y="253"/><use href="#c" x="1127" y="261"/><use href="#c" x="1135" y="261"/><use href="#c" x="1134" y="263"/><use href="#c" x="1121" y="262"/><use href="#c" x="1121" y="265"/><use href="#c" x="1114" y="263"/><use href="#c" x="1118" y="266"/><use href="#c" x="1122" y="269"/><use href="#c" x="1130" y="265"/><use href="#c" x="1130" y="267"/><use href="#c" x="1129" y="271"/><use href="#c" x="1134" y="270"/><use href="#c" x="1137" y="270"/><use href="#c" x="1137" y="273"/><use href="#c" x="1141" y="263"/><use href="#c" x="1145" y="269"/><use href="#c" x="1140" y="268"/><use href="#c" x="1142" y="269"/><use href="#c" x="1145" y="272"/><use href="#c" x="1165" y="263"/><use href="#c" x="1172" y="265"/><use href="#c" x="1175" y="263"/><use href="#c" x="1178" y="263"/><use href="#c" x="1170" y="267"/><use href="#c" x="1183" y="269"/><use href="#c" x="1153" y="269"/><use href="#c" x="1156" y="271"/><use href="#c" x="1154" y="274"/><use href="#c" x="1109" y="270"/><use href="#c" x="1107" y="272"/><use href="#c" x="1107" y="274"/><use href="#c" x="1114" y="271"/><use href="#c" x="1112" y="274"/><use href="#c" x="1119" y="273"/><use href="#c" x="1218" y="275"/><use href="#c" x="1227" y="280"/><use href="#c" x="1214" y="282"/><use href="#c" x="1171" y="280"/><use href="#c" x="1192" y="281"/><use href="#c" x="1199" y="282"/><use href="#c" x="1199" y="289"/><use href="#c" x="1185" y="286"/><use href="#c" x="1187" y="290"/><use href="#c" x="1163" y="283"/><use href="#c" x="1161" y="286"/><use href="#c" x="1157" y="287"/><use href="#c" x="1160" y="289"/><use href="#c" x="1107" y="280"/><use href="#c" x="1134" y="279"/><use href="#c" x="1129" y="279"/><use href="#c" x="1140" y="279"/><use href="#c" x="1146" y="279"/><use href="#c" x="1148" y="278"/><use href="#c" x="1141" y="282"/><use href="#c" x="1143" y="283"/><use href="#c" x="1149" y="282"/><use href="#c" x="1151" y="283"/><use href="#c" x="1146" y="285"/><use href="#c" x="1145" y="288"/><use href="#c" x="1151" y="289"/><use href="#c" x="1153" y="292"/><use href="#c" x="1147" y="291"/><use href="#c" x="1144" y="293"/><use href="#c" x="1149" y="296"/><use href="#c" x="1145" y="297"/><use href="#c" x="1140" y="296"/><use href="#c" x="1135" y="297"/><use href="#c" x="1142" y="295"/><use href="#c" x="1157" y="296"/><use href="#c" x="1162" y="294"/><use href="#c" x="1165" y="295"/><use href="#c" x="1169" y="295"/><use href="#c" x="1169" y="296"/><use href="#c" x="1172" y="293"/><use href="#c" x="1176" y="293"/><use href="#c" x="1179" y="293"/><use href="#c" x="1178" y="297"/><use href="#c" x="1203" y="298"/><use href="#c" x="1205" y="297"/><use href="#c" x="1138" y="297"/><use href="#c" x="1150" y="292"/><use href="#c" x="1148" y="287"/><use href="#c" x="1142" y="287"/><use href="#c" x="1142" y="279"/><use href="#c" x="1139" y="295"/><use href="#c" x="1148" y="296"/><use href="#c" x="1132" y="281"/><use href="#c" x="1147" y="287"/><use href="#c" x="1142" y="289"/><use href="#c" x="1138" y="278"/><use href="#c" x="1135" y="298"/><use href="#c" x="1121" y="271"/><use href="#c" x="1128" y="272"/><use href="#c" x="1135" y="275"/><use href="#c" x="1139" y="274"/><use href="#c" x="1112" y="269"/><use href="#c" x="1108" y="278"/><use href="#c" x="1149" y="292"/><use href="#c" x="1154" y="289"/><use href="#c" x="1156" y="288"/><use href="#c" x="1154" y="287"/><use href="#c" x="1149" y="287"/><use href="#c" x="1160" y="286"/><use href="#c" x="1149" y="283"/><use href="#c" x="1147" y="279"/><use href="#c" x="1141" y="280"/><use href="#c" x="1143" y="281"/><use href="#c" x="1138" y="281"/><use href="#c" x="1123" y="277"/><use href="#c" x="1128" y="277"/><use href="#c" x="1110" y="276"/><use href="#c" x="1107" y="279"/><use href="#c" x="1139" y="281"/><use href="#c" x="1116" y="276"/><use href="#c" x="1138" y="283"/><use href="#c" x="1134" y="284"/><use href="#c" x="1122" y="276"/><use href="#c" x="1114" y="277"/><use href="#c" x="1108" y="284"/><use href="#c" x="1154" y="290"/><use href="#c" x="1145" y="286"/><use href="#c" x="1155" y="286"/><use href="#c" x="1148" y="286"/><use href="#c" x="1163" y="288"/><use href="#c" x="1164" y="289"/><use href="#c" x="1161" y="288"/><use href="#c" x="1159" y="290"/><use href="#c" x="1160" y="290"/><use href="#c" x="1155" y="292"/></g></g>
<g shape-rendering="crispEdges"><rect x="40.5" y="309.5" width="260" height="120" fill="#D2F4F2" stroke="#b3b3b3"/><g clip-path="url(#k20)"><path d="M52 403h3v1h-3zM51 404h7v1h-7zM50 405h9v1h-9zM49 406h10v1h-10zM80 406h3v1h-3zM48 407h13v1h-13zM79 407h2v1h-2zM82 407h2v1h-2zM48 408h14v1h-14zM78 408h6v1h-6zM48 409h14v1h-14zM77 409h6v1h-6zM84 409h1v1h-1zM48 410h15v1h-15zM67 410h4v1h-4zM74 410h11v1h-11zM48 411h19v1h-19zM68 411h2v1h-2zM71 411h14v1h-14zM48 412h37v1h-37zM48 413h37v1h-37zM48 414h37v1h-37zM48 415h38v1h-38zM48 416h38v1h-38zM48 417h38v1h-38zM48 418h39v1h-39zM48 419h39v1h-39zM48 420h38v1h-38zM48 421h38v1h-38zM48 422h38v1h-38zM48 423h37v1h-37zM48 424h36v1h-36zM49 425h32v1h-32z"/><use href="#c" x="94" y="406"/><use href="#c" x="97" y="409"/><use href="#c" x="80" y="412"/><use href="#c" x="86" y="413"/><use href="#c" x="84" y="421"/><use href="#c" x="86" y="418"/><use href="#c" x="87" y="405"/><use href="#c" x="89" y="417"/><use href="#c" x="90" y="416"/><use href="#c" x="82" y="406"/><use href="#c" x="83" y="413"/><use href="#c" x="97" y="411"/><use href="#c" x="96" y="405"/><use href="#c" x="85" y="417"/><use href="#c" x="96" y="420"/><use href="#c" x="83" y="414"/><use href="#c" x="85" y="419"/><use href="#c" x="92" y="417"/><use href="#c" x="86" y="422"/><use href="#c" x="82" y="418"/><use href="#c" x="98" y="415"/><use href="#c" x="87" y="420"/><use href="#c" x="288" y="311"/><use href="#c" x="244" y="367"/><use href="#c" x="231" y="371"/><use href="#c" x="207" y="359"/><use href="#c" x="205" y="391"/><use href="#c" x="192" y="394"/><use href="#c" x="194" y="403"/><use href="#c" x="170" y="341"/><use href="#c" x="112" y="363"/><use href="#c" x="62" y="362"/><use href="#c" x="173" y="418"/><use href="#c" x="174" y="416"/><use href="#c" x="151" y="377"/><use href="#c" x="144" y="403"/><use href="#c" x="144" y="400"/><use href="#c" x="139" y="400"/><use href="#c" x="142" y="398"/><use href="#c" x="148" y="397"/><use href="#c" x="133" y="394"/><use href="#c" x="129" y="403"/><use href="#c" x="128" y="402"/><use href="#c" x="124" y="402"/><use href="#c" x="120" y="402"/><use href="#c" x="123" y="395"/><use href="#c" x="120" y="391"/><use href="#c" x="120" y="398"/><use href="#c" x="125" y="417"/><use href="#c" x="120" y="416"/><use href="#c" x="125" y="411"/><use href="#c" x="118" y="412"/><use href="#c" x="116" y="414"/><use href="#c" x="113" y="412"/><use href="#c" x="116" y="411"/><use href="#c" x="124" y="408"/><use href="#c" x="123" y="407"/><use href="#c" x="119" y="407"/><use href="#c" x="116" y="407"/><use href="#c" x="114" y="406"/><use href="#c" x="112" y="407"/><use href="#c" x="107" y="409"/><use href="#c" x="106" y="407"/><use href="#c" x="112" y="402"/><use href="#c" x="112" y="401"/><use href="#c" x="112" y="399"/><use href="#c" x="112" y="398"/><use href="#c" x="107" y="397"/><use href="#c" x="106" y="403"/><use href="#c" x="102" y="403"/><use href="#c" x="110" y="393"/><use href="#c" x="105" y="389"/><use href="#c" x="103" y="406"/><use href="#c" x="99" y="406"/><use href="#c" x="94" y="400"/><use href="#c" x="90" y="401"/><use href="#c" x="103" y="420"/><use href="#c" x="106" y="419"/><use href="#c" x="110" y="416"/><use href="#c" x="107" y="415"/><use href="#c" x="105" y="414"/><use href="#c" x="87" y="422"/><use href="#c" x="87" y="393"/><use href="#c" x="86" y="393"/><use href="#c" x="84" y="394"/><use href="#c" x="81" y="382"/><use href="#c" x="84" y="377"/><use href="#c" x="73" y="376"/><use href="#c" x="90" y="405"/><use href="#c" x="90" y="407"/><use href="#c" x="77" y="404"/><use href="#c" x="81" y="406"/><use href="#c" x="79" y="407"/><use href="#c" x="73" y="406"/><use href="#c" x="66" y="400"/><use href="#c" x="69" y="392"/><use href="#c" x="60" y="393"/><use href="#c" x="54" y="392"/><use href="#c" x="51" y="392"/><use href="#c" x="64" y="405"/><use href="#c" x="71" y="408"/><use href="#c" x="59" y="409"/><use href="#c" x="55" y="408"/><use href="#c" x="58" y="406"/><use href="#c" x="55" y="404"/><use href="#c" x="52" y="403"/><use href="#c" x="51" y="402"/><use href="#c" x="48" y="407"/><use href="#c" x="48" y="404"/><use href="#c" x="48" y="398"/><use href="#c" x="48" y="388"/><use href="#c" x="48" y="409"/><use href="#c" x="48" y="411"/><use href="#c" x="49" y="404"/><use href="#c" x="61" y="409"/><use href="#c" x="50" y="402"/><use href="#c" x="76" y="410"/><use href="#c" x="75" y="402"/><use href="#c" x="62" y="408"/><use href="#c" x="68" y="404"/><use href="#c" x="86" y="412"/><use href="#c" x="59" y="410"/><use href="#c" x="85" y="410"/><use href="#c" x="90" y="410"/><use href="#c" x="76" y="405"/><use href="#c" x="61" y="411"/><use href="#c" x="70" y="406"/></g></g>
<g shape-rendering="crispEdges"><rect x="305.5" y="309.5" width="260" height="120" fill="#D2F4F2" stroke="#b3b3b3"/><g clip-path="url(#k21)"><path d="M317 403h3v1h-3zM316 404h5v1h-5zM314 405h9v1h-9zM313 406h12v1h-12zM344 406h2v1h-2zM313 407h13v1h-13zM343 407h4v1h-4zM313 408h14v1h-14zM342 408h6v1h-6zM313 409h15v1h-15zM341 409h8v1h-8zM313 410h15v1h-15zM332 410h3v1h-3zM338 410h11v1h-11zM313 411h36v1h-36zM313 412h37v1h-37zM313 413h37v1h-37zM313 414h36v1h-36zM313 415h36v1h-36zM313 416h36v1h-36zM313 417h37v1h-37zM313 418h37v1h-37zM313 419h37v1h-37zM313 420h37v1h-37zM313 421h36v1h-36zM313 422h36v1h-36zM313 423h35v1h-35zM313 424h34v1h-34zM314 425h31v1h-31z"/><use href="#c" x="359" y="406"/><use href="#c" x="362" y="409"/><use href="#c" x="345" y="412"/><use href="#c" x="351" y="413"/><use href="#c" x="347" y="421"/><use href="#c" x="349" y="418"/><use href="#c" x="350" y="405"/><use href="#c" x="351" y="417"/><use href="#c" x="355" y="416"/><use href="#c" x="347" y="406"/><use href="#c" x="345" y="413"/><use href="#c" x="360" y="411"/><use href="#c" x="361" y="405"/><use href="#c" x="347" y="417"/><use href="#c" x="358" y="420"/><use href="#c" x="347" y="414"/><use href="#c" x="350" y="419"/><use href="#c" x="357" y="417"/><use href="#c" x="349" y="422"/><use href="#c" x="344" y="418"/><use href="#c" x="360" y="415"/><use href="#c" x="351" y="420"/><use href="#c" x="553" y="311"/><use href="#c" x="503" y="367"/><use href="#c" x="479" y="371"/><use href="#c" x="462" y="359"/><use href="#c" x="469" y="391"/><use href="#c" x="455" y="394"/><use href="#c" x="458" y="403"/><use href="#c" x="428" y="341"/><use href="#c" x="375" y="363"/><use href="#c" x="328" y="362"/><use href="#c" x="422" y="418"/><use href="#c" x="424" y="416"/><use href="#c" x="417" y="377"/><use href="#c" x="402" y="403"/><use href="#c" x="402" y="400"/><use href="#c" x="408" y="398"/><use href="#c" x="420" y="397"/><use href="#c" x="409" y="394"/><use href="#c" x="393" y="403"/><use href="#c" x="389" y="402"/><use href="#c" x="379" y="402"/><use href="#c" x="387" y="402"/><use href="#c" x="383" y="395"/><use href="#c" x="387" y="391"/><use href="#c" x="387" y="398"/><use href="#c" x="388" y="417"/><use href="#c" x="387" y="416"/><use href="#c" x="388" y="411"/><use href="#c" x="384" y="412"/><use href="#c" x="382" y="414"/><use href="#c" x="377" y="412"/><use href="#c" x="382" y="411"/><use href="#c" x="379" y="408"/><use href="#c" x="383" y="407"/><use href="#c" x="386" y="407"/><use href="#c" x="382" y="407"/><use href="#c" x="378" y="406"/><use href="#c" x="373" y="407"/><use href="#c" x="369" y="409"/><use href="#c" x="369" y="407"/><use href="#c" x="375" y="402"/><use href="#c" x="374" y="401"/><use href="#c" x="377" y="399"/><use href="#c" x="373" y="398"/><use href="#c" x="370" y="397"/><use href="#c" x="368" y="403"/><use href="#c" x="366" y="403"/><use href="#c" x="373" y="393"/><use href="#c" x="368" y="389"/><use href="#c" x="367" y="406"/><use href="#c" x="364" y="406"/><use href="#c" x="357" y="406"/><use href="#c" x="357" y="400"/><use href="#c" x="352" y="401"/><use href="#c" x="366" y="420"/><use href="#c" x="368" y="419"/><use href="#c" x="370" y="416"/><use href="#c" x="371" y="415"/><use href="#c" x="367" y="414"/><use href="#c" x="348" y="422"/><use href="#c" x="351" y="393"/><use href="#c" x="348" y="393"/><use href="#c" x="348" y="394"/><use href="#c" x="346" y="382"/><use href="#c" x="346" y="377"/><use href="#c" x="335" y="376"/><use href="#c" x="355" y="405"/><use href="#c" x="352" y="407"/><use href="#c" x="340" y="404"/><use href="#c" x="344" y="406"/><use href="#c" x="342" y="407"/><use href="#c" x="338" y="406"/><use href="#c" x="330" y="400"/><use href="#c" x="331" y="392"/><use href="#c" x="326" y="393"/><use href="#c" x="320" y="392"/><use href="#c" x="316" y="392"/><use href="#c" x="331" y="405"/><use href="#c" x="336" y="408"/><use href="#c" x="324" y="409"/><use href="#c" x="319" y="408"/><use href="#c" x="322" y="406"/><use href="#c" x="322" y="404"/><use href="#c" x="318" y="403"/><use href="#c" x="316" y="402"/><use href="#c" x="312" y="407"/><use href="#c" x="313" y="404"/><use href="#c" x="313" y="398"/><use href="#c" x="314" y="388"/><use href="#c" x="313" y="409"/><use href="#c" x="313" y="411"/><use href="#c" x="314" y="404"/><use href="#c" x="326" y="409"/><use href="#c" x="315" y="402"/><use href="#c" x="340" y="410"/><use href="#c" x="339" y="402"/><use href="#c" x="325" y="408"/><use href="#c" x="332" y="404"/><use href="#c" x="349" y="412"/><use href="#c" x="322" y="410"/><use href="#c" x="323" y="409"/><use href="#c" x="349" y="410"/><use href="#c" x="353" y="410"/><use href="#c" x="342" y="405"/><use href="#c" x="326" y="411"/><use href="#c" x="335" y="406"/></g></g>
<g shape-rendering="crispEdges"><rect x="569.5" y="309.5" width="261" height="120" fill="#fff" stroke="#b3b3b3"/></g>
<g clip-path="url(#t22)"><text class="d" style="text-anchor:start" xml:space="preserve" transform="translate(0,372.9) scale(0.972,1.04)" y="0"><tspan x="583.83">Complete </tspan><tspan x="628.22">Works </tspan><tspan x="658.88">of </tspan><tspan x="671.69">Diodorus </tspan><tspan x="712.32">Sicu </tspan><tspan x="734.13">- </tspan><tspan x="740.51">Diodorus </tspan><tspan x="781.46">Siculus_Split3.txt</tspan></text></g>
<g shape-rendering="crispEdges"><rect x="834.5" y="309.5" width="260" height="120" fill="#F4BBDD" stroke="#b3b3b3"/><g clip-path="url(#k23)"><path d="M881 403h2v1h-2zM880 404h4v1h-4zM878 405h7v1h-7zM877 406h8v1h-8zM876 407h8v1h-8zM875 408h10v1h-10zM863 409h4v1h-4zM872 409h2v1h-2zM875 409h11v1h-11zM861 410h8v1h-8zM871 410h16v1h-16zM859 411h28v1h-28zM856 412h33v1h-33zM845 413h7v1h-7zM855 413h1v1h-1zM858 413h29v1h-29zM889 413h1v1h-1zM844 414h44v1h-44zM889 414h1v1h-1zM843 415h46v1h-46zM843 416h44v1h-44zM842 417h44v1h-44zM842 418h45v1h-45zM842 419h45v1h-45zM842 420h44v1h-44zM842 421h43v1h-43zM842 422h40v1h-40zM842 423h38v1h-38zM842 424h32v1h-32zM843 425h24v1h-24z"/><use href="#c" x="1037" y="311"/><use href="#c" x="1083" y="340"/><use href="#c" x="1018" y="359"/><use href="#c" x="983" y="367"/><use href="#c" x="978" y="370"/><use href="#c" x="978" y="375"/><use href="#c" x="1031" y="377"/><use href="#c" x="1045" y="382"/><use href="#c" x="1005" y="393"/><use href="#c" x="994" y="400"/><use href="#c" x="1027" y="414"/><use href="#c" x="869" y="362"/><use href="#c" x="968" y="363"/><use href="#c" x="890" y="377"/><use href="#c" x="877" y="388"/><use href="#c" x="846" y="392"/><use href="#c" x="853" y="392"/><use href="#c" x="872" y="394"/><use href="#c" x="876" y="397"/><use href="#c" x="873" y="398"/><use href="#c" x="888" y="393"/><use href="#c" x="901" y="389"/><use href="#c" x="904" y="392"/><use href="#c" x="909" y="395"/><use href="#c" x="916" y="391"/><use href="#c" x="919" y="393"/><use href="#c" x="921" y="397"/><use href="#c" x="928" y="391"/><use href="#c" x="939" y="393"/><use href="#c" x="950" y="392"/><use href="#c" x="970" y="393"/><use href="#c" x="934" y="398"/><use href="#c" x="916" y="400"/><use href="#c" x="907" y="403"/><use href="#c" x="907" y="406"/><use href="#c" x="916" y="406"/><use href="#c" x="915" y="409"/><use href="#c" x="924" y="405"/><use href="#c" x="924" y="406"/><use href="#c" x="924" y="409"/><use href="#c" x="959" y="405"/><use href="#c" x="960" y="411"/><use href="#c" x="941" y="413"/><use href="#c" x="907" y="412"/><use href="#c" x="906" y="416"/><use href="#c" x="903" y="417"/><use href="#c" x="900" y="414"/><use href="#c" x="915" y="415"/><use href="#c" x="914" y="417"/><use href="#c" x="891" y="398"/><use href="#c" x="895" y="398"/><use href="#c" x="888" y="400"/><use href="#c" x="892" y="402"/><use href="#c" x="901" y="402"/><use href="#c" x="899" y="403"/><use href="#c" x="901" y="407"/><use href="#c" x="897" y="407"/><use href="#c" x="895" y="404"/><use href="#c" x="891" y="406"/><use href="#c" x="842" y="402"/><use href="#c" x="842" y="404"/><use href="#c" x="842" y="407"/><use href="#c" x="846" y="406"/><use href="#c" x="853" y="403"/><use href="#c" x="854" y="405"/><use href="#c" x="859" y="402"/><use href="#c" x="865" y="400"/><use href="#c" x="867" y="400"/><use href="#c" x="866" y="403"/><use href="#c" x="867" y="406"/><use href="#c" x="865" y="409"/><use href="#c" x="850" y="408"/><use href="#c" x="856" y="408"/><use href="#c" x="881" y="401"/><use href="#c" x="883" y="401"/><use href="#c" x="879" y="403"/><use href="#c" x="880" y="405"/><use href="#c" x="891" y="409"/><use href="#c" x="891" y="412"/><use href="#c" x="888" y="410"/><use href="#c" x="890" y="415"/><use href="#c" x="887" y="417"/><use href="#c" x="886" y="420"/><use href="#c" x="884" y="422"/><use href="#c" x="880" y="423"/><use href="#c" x="876" y="423"/><use href="#c" x="872" y="423"/><use href="#c" x="868" y="423"/><use href="#c" x="864" y="423"/><use href="#c" x="895" y="405"/><use href="#c" x="890" y="414"/><use href="#c" x="896" y="410"/><use href="#c" x="896" y="405"/><use href="#c" x="889" y="412"/><use href="#c" x="891" y="405"/><use href="#c" x="890" y="405"/><use href="#c" x="894" y="401"/><use href="#c" x="888" y="419"/><use href="#c" x="890" y="401"/><use href="#c" x="884" y="421"/><use href="#c" x="842" y="405"/><use href="#c" x="864" y="405"/><use href="#c" x="884" y="405"/><use href="#c" x="900" y="405"/><use href="#c" x="853" y="404"/><use href="#c" x="864" y="406"/><use href="#c" x="874" y="403"/><use href="#c" x="889" y="402"/><use href="#c" x="846" y="405"/><use href="#c" x="895" y="400"/><use href="#c" x="864" y="403"/><use href="#c" x="880" y="404"/><use href="#c" x="893" y="405"/><use href="#c" x="894" y="405"/><use href="#c" x="899" y="406"/><use href="#c" x="877" y="401"/><use href="#c" x="876" y="404"/><use href="#c" x="898" y="406"/></g></g>
<g shape-rendering="crispEdges"><rect x="1099.5" y="309.5" width="260" height="120" fill="#D2F4F2" stroke="#b3b3b3"/><g clip-path="url(#k24)"><path d="M1108 405h2v1h-2zM1107 406h4v1h-4zM1107 407h5v1h-5zM1142 407h2v1h-2zM1107 408h6v1h-6zM1127 408h6v1h-6zM1141 408h4v1h-4zM1107 409h7v1h-7zM1123 409h5v1h-5zM1129 409h7v1h-7zM1140 409h6v1h-6zM1107 410h10v1h-10zM1119 410h28v1h-28zM1107 411h40v1h-40zM1107 412h39v1h-39zM1107 413h35v1h-35zM1107 414h33v1h-33zM1107 415h32v1h-32zM1107 416h33v1h-33zM1107 417h33v1h-33zM1107 418h33v1h-33zM1107 419h32v1h-32zM1107 420h30v1h-30zM1107 421h29v1h-29zM1137 421h1v1h-1zM1107 422h28v1h-28zM1136 422h2v1h-2zM1107 423h30v1h-30zM1108 424h28v1h-28zM1109 425h26v1h-26z"/><use href="#c" x="1281" y="311"/><use href="#c" x="1347" y="340"/><use href="#c" x="1194" y="359"/><use href="#c" x="1144" y="362"/><use href="#c" x="1263" y="363"/><use href="#c" x="1245" y="367"/><use href="#c" x="1240" y="393"/><use href="#c" x="1253" y="421"/><use href="#c" x="1304" y="420"/><use href="#c" x="1235" y="370"/><use href="#c" x="1185" y="375"/><use href="#c" x="1199" y="377"/><use href="#c" x="1204" y="377"/><use href="#c" x="1214" y="382"/><use href="#c" x="1145" y="389"/><use href="#c" x="1155" y="391"/><use href="#c" x="1107" y="388"/><use href="#c" x="1109" y="392"/><use href="#c" x="1115" y="392"/><use href="#c" x="1117" y="394"/><use href="#c" x="1127" y="392"/><use href="#c" x="1112" y="398"/><use href="#c" x="1131" y="397"/><use href="#c" x="1131" y="398"/><use href="#c" x="1171" y="393"/><use href="#c" x="1172" y="395"/><use href="#c" x="1174" y="398"/><use href="#c" x="1175" y="391"/><use href="#c" x="1176" y="392"/><use href="#c" x="1180" y="393"/><use href="#c" x="1183" y="392"/><use href="#c" x="1192" y="393"/><use href="#c" x="1227" y="393"/><use href="#c" x="1153" y="398"/><use href="#c" x="1156" y="397"/><use href="#c" x="1157" y="402"/><use href="#c" x="1161" y="406"/><use href="#c" x="1154" y="406"/><use href="#c" x="1149" y="406"/><use href="#c" x="1178" y="402"/><use href="#c" x="1192" y="400"/><use href="#c" x="1199" y="400"/><use href="#c" x="1187" y="405"/><use href="#c" x="1218" y="405"/><use href="#c" x="1170" y="405"/><use href="#c" x="1172" y="409"/><use href="#c" x="1169" y="413"/><use href="#c" x="1169" y="417"/><use href="#c" x="1165" y="417"/><use href="#c" x="1163" y="415"/><use href="#c" x="1160" y="417"/><use href="#c" x="1162" y="419"/><use href="#c" x="1157" y="412"/><use href="#c" x="1158" y="413"/><use href="#c" x="1153" y="413"/><use href="#c" x="1151" y="416"/><use href="#c" x="1179" y="417"/><use href="#c" x="1178" y="422"/><use href="#c" x="1203" y="419"/><use href="#c" x="1205" y="421"/><use href="#c" x="1121" y="400"/><use href="#c" x="1122" y="402"/><use href="#c" x="1127" y="402"/><use href="#c" x="1129" y="401"/><use href="#c" x="1134" y="403"/><use href="#c" x="1135" y="404"/><use href="#c" x="1140" y="401"/><use href="#c" x="1143" y="400"/><use href="#c" x="1143" y="403"/><use href="#c" x="1115" y="405"/><use href="#c" x="1118" y="404"/><use href="#c" x="1110" y="406"/><use href="#c" x="1107" y="402"/><use href="#c" x="1149" y="409"/><use href="#c" x="1151" y="408"/><use href="#c" x="1147" y="411"/><use href="#c" x="1145" y="413"/><use href="#c" x="1142" y="415"/><use href="#c" x="1147" y="417"/><use href="#c" x="1145" y="419"/><use href="#c" x="1141" y="422"/><use href="#c" x="1138" y="420"/><use href="#c" x="1136" y="422"/><use href="#c" x="1134" y="423"/><use href="#c" x="1151" y="407"/><use href="#c" x="1124" y="405"/><use href="#c" x="1143" y="413"/><use href="#c" x="1136" y="403"/><use href="#c" x="1131" y="405"/><use href="#c" x="1146" y="409"/><use href="#c" x="1146" y="414"/><use href="#c" x="1142" y="419"/><use href="#c" x="1123" y="400"/><use href="#c" x="1110" y="404"/><use href="#c" x="1135" y="421"/><use href="#c" x="1150" y="406"/><use href="#c" x="1141" y="417"/><use href="#c" x="1143" y="406"/><use href="#c" x="1150" y="405"/><use href="#c" x="1140" y="419"/><use href="#c" x="1150" y="407"/><use href="#c" x="1140" y="423"/><use href="#c" x="1145" y="401"/><use href="#c" x="1150" y="408"/><use href="#c" x="1138" y="403"/><use href="#c" x="1140" y="400"/><use href="#c" x="1138" y="423"/><use href="#c" x="1157" y="406"/><use href="#c" x="1124" y="403"/><use href="#c" x="1137" y="406"/><use href="#c" x="1147" y="408"/><use href="#c" x="1132" y="400"/><use href="#c" x="1120" y="403"/><use href="#c" x="1128" y="404"/><use href="#c" x="1131" y="406"/><use href="#c" x="1119" y="401"/><use href="#c" x="1161" y="405"/><use href="#c" x="1151" y="403"/><use href="#c" x="1123" y="403"/><use href="#c" x="1134" y="404"/><use href="#c" x="1136" y="404"/><use href="#c" x="1120" y="400"/><use href="#c" x="1115" y="401"/><use href="#c" x="1141" y="408"/><use href="#c" x="1118" y="405"/><use href="#c" x="1127" y="407"/><use href="#c" x="1107" y="409"/><use href="#c" x="1139" y="408"/><use href="#c" x="1134" y="409"/><use href="#c" x="1117" y="408"/><use href="#c" x="1107" y="403"/><use href="#c" x="1121" y="406"/><use href="#c" x="1123" y="407"/><use href="#c" x="1114" y="404"/><use href="#c" x="1117" y="405"/><use href="#c" x="1125" y="406"/><use href="#c" x="1143" y="408"/><use href="#c" x="1126" y="406"/><use href="#c" x="1107" y="406"/><use href="#c" x="1112" y="404"/></g></g>
<g shape-rendering="crispEdges"><rect x="40.5" y="434.5" width="260" height="120" fill="#FDFFDA" stroke="#b3b3b3"/><g clip-path="url(#k30)"><path d="M58 526h2v1h-2zM54 527h4v1h-4zM60 527h2v1h-2zM53 528h10v1h-10zM49 529h14v1h-14zM48 530h16v1h-16zM68 530h4v1h-4zM48 531h25v1h-25zM48 532h25v1h-25zM80 532h2v1h-2zM48 533h25v1h-25zM79 533h4v1h-4zM48 534h25v1h-25zM79 534h4v1h-4zM48 535h24v1h-24zM73 535h1v1h-1zM78 535h6v1h-6zM48 536h36v1h-36zM48 537h37v1h-37zM48 538h35v1h-35zM84 538h2v1h-2zM48 539h36v1h-36zM85 539h1v1h-1zM48 540h37v1h-37zM49 541h36v1h-36zM48 542h37v1h-37zM48 543h37v1h-37zM48 544h36v1h-36zM85 544h1v1h-1zM48 545h38v1h-38zM48 546h37v1h-37zM48 547h36v1h-36zM49 548h35v1h-35zM49 549h34v1h-34zM50 550h32v1h-32z"/><use href="#c" x="99" y="545"/><use href="#c" x="102" y="542"/><use href="#c" x="104" y="544"/><use href="#c" x="106" y="547"/><use href="#c" x="93" y="538"/><use href="#c" x="86" y="536"/><use href="#c" x="84" y="547"/><use href="#c" x="95" y="541"/><use href="#c" x="102" y="544"/><use href="#c" x="90" y="547"/><use href="#c" x="96" y="548"/><use href="#c" x="89" y="538"/><use href="#c" x="84" y="546"/><use href="#c" x="98" y="546"/><use href="#c" x="92" y="548"/><use href="#c" x="102" y="546"/><use href="#c" x="83" y="546"/><use href="#c" x="107" y="545"/><use href="#c" x="94" y="543"/><use href="#c" x="89" y="535"/><use href="#c" x="105" y="543"/><use href="#c" x="93" y="546"/><use href="#c" x="288" y="458"/><use href="#c" x="244" y="482"/><use href="#c" x="231" y="485"/><use href="#c" x="207" y="466"/><use href="#c" x="205" y="513"/><use href="#c" x="192" y="526"/><use href="#c" x="194" y="543"/><use href="#c" x="170" y="436"/><use href="#c" x="73" y="485"/><use href="#c" x="67" y="477"/><use href="#c" x="86" y="472"/><use href="#c" x="84" y="460"/><use href="#c" x="82" y="454"/><use href="#c" x="56" y="462"/><use href="#c" x="173" y="544"/><use href="#c" x="174" y="541"/><use href="#c" x="148" y="532"/><use href="#c" x="151" y="525"/><use href="#c" x="142" y="525"/><use href="#c" x="144" y="513"/><use href="#c" x="144" y="537"/><use href="#c" x="140" y="536"/><use href="#c" x="134" y="534"/><use href="#c" x="126" y="533"/><use href="#c" x="129" y="531"/><use href="#c" x="120" y="532"/><use href="#c" x="129" y="521"/><use href="#c" x="123" y="517"/><use href="#c" x="121" y="524"/><use href="#c" x="112" y="523"/><use href="#c" x="112" y="526"/><use href="#c" x="121" y="547"/><use href="#c" x="125" y="546"/><use href="#c" x="125" y="540"/><use href="#c" x="123" y="539"/><use href="#c" x="123" y="538"/><use href="#c" x="117" y="537"/><use href="#c" x="118" y="535"/><use href="#c" x="107" y="536"/><use href="#c" x="114" y="540"/><use href="#c" x="112" y="531"/><use href="#c" x="110" y="530"/><use href="#c" x="112" y="529"/><use href="#c" x="106" y="530"/><use href="#c" x="121" y="508"/><use href="#c" x="120" y="505"/><use href="#c" x="114" y="510"/><use href="#c" x="107" y="511"/><use href="#c" x="97" y="510"/><use href="#c" x="110" y="498"/><use href="#c" x="112" y="489"/><use href="#c" x="107" y="518"/><use href="#c" x="106" y="521"/><use href="#c" x="103" y="520"/><use href="#c" x="105" y="548"/><use href="#c" x="103" y="547"/><use href="#c" x="110" y="544"/><use href="#c" x="106" y="542"/><use href="#c" x="99" y="546"/><use href="#c" x="101" y="545"/><use href="#c" x="99" y="539"/><use href="#c" x="94" y="537"/><use href="#c" x="99" y="525"/><use href="#c" x="90" y="525"/><use href="#c" x="90" y="527"/><use href="#c" x="90" y="530"/><use href="#c" x="91" y="533"/><use href="#c" x="90" y="522"/><use href="#c" x="82" y="520"/><use href="#c" x="77" y="522"/><use href="#c" x="81" y="527"/><use href="#c" x="77" y="527"/><use href="#c" x="86" y="503"/><use href="#c" x="84" y="488"/><use href="#c" x="87" y="547"/><use href="#c" x="73" y="513"/><use href="#c" x="66" y="514"/><use href="#c" x="60" y="512"/><use href="#c" x="66" y="518"/><use href="#c" x="58" y="518"/><use href="#c" x="55" y="519"/><use href="#c" x="52" y="520"/><use href="#c" x="48" y="521"/><use href="#c" x="49" y="518"/><use href="#c" x="53" y="514"/><use href="#c" x="49" y="514"/><use href="#c" x="48" y="510"/><use href="#c" x="51" y="502"/><use href="#c" x="64" y="494"/><use href="#c" x="49" y="493"/><use href="#c" x="60" y="525"/><use href="#c" x="55" y="524"/><use href="#c" x="59" y="527"/><use href="#c" x="51" y="525"/><use href="#c" x="48" y="528"/><use href="#c" x="68" y="529"/><use href="#c" x="71" y="531"/><use href="#c" x="77" y="529"/><use href="#c" x="78" y="532"/><use href="#c" x="61" y="530"/><use href="#c" x="87" y="532"/><use href="#c" x="51" y="533"/><use href="#c" x="55" y="527"/><use href="#c" x="59" y="528"/><use href="#c" x="49" y="528"/><use href="#c" x="67" y="533"/><use href="#c" x="52" y="531"/><use href="#c" x="79" y="534"/><use href="#c" x="55" y="531"/><use href="#c" x="56" y="530"/><use href="#c" x="66" y="531"/><use href="#c" x="61" y="533"/><use href="#c" x="51" y="529"/><use href="#c" x="48" y="529"/><use href="#c" x="52" y="527"/><use href="#c" x="71" y="529"/><use href="#c" x="80" y="532"/><use href="#c" x="70" y="531"/><use href="#c" x="62" y="526"/><use href="#c" x="73" y="529"/><use href="#c" x="73" y="528"/><use href="#c" x="61" y="526"/><use href="#c" x="73" y="527"/><use href="#c" x="57" y="529"/><use href="#c" x="58" y="531"/></g></g>
<g shape-rendering="crispEdges"><rect x="305.5" y="434.5" width="260" height="120" fill="#FDFFDA" stroke="#b3b3b3"/><g clip-path="url(#k31)"><path d="M319 526h2v1h-2zM322 526h2v1h-2zM318 527h8v1h-8zM318 528h7v1h-7zM326 528h1v1h-1zM314 529h13v1h-13zM313 530h15v1h-15zM332 530h2v1h-2zM313 531h17v1h-17zM331 531h4v1h-4zM313 532h24v1h-24zM344 532h3v1h-3zM313 533h25v1h-25zM343 533h5v1h-5zM313 534h25v1h-25zM343 534h2v1h-2zM346 534h2v1h-2zM313 535h25v1h-25zM341 535h7v1h-7zM313 536h26v1h-26zM340 536h7v1h-7zM313 537h29v1h-29zM343 537h5v1h-5zM313 538h36v1h-36zM313 539h35v1h-35zM349 539h1v1h-1zM313 540h37v1h-37zM313 541h36v1h-36zM313 542h36v1h-36zM313 543h36v1h-36zM313 544h37v1h-37zM313 545h37v1h-37zM313 546h36v1h-36zM313 547h1v1h-1zM315 547h34v1h-34zM313 548h35v1h-35zM314 549h33v1h-33zM315 550h30v1h-30z"/><use href="#c" x="364" y="545"/><use href="#c" x="365" y="542"/><use href="#c" x="367" y="544"/><use href="#c" x="367" y="547"/><use href="#c" x="357" y="538"/><use href="#c" x="350" y="536"/><use href="#c" x="348" y="547"/><use href="#c" x="358" y="541"/><use href="#c" x="363" y="544"/><use href="#c" x="355" y="547"/><use href="#c" x="360" y="548"/><use href="#c" x="352" y="538"/><use href="#c" x="348" y="546"/><use href="#c" x="362" y="546"/><use href="#c" x="355" y="548"/><use href="#c" x="365" y="546"/><use href="#c" x="347" y="546"/><use href="#c" x="370" y="545"/><use href="#c" x="358" y="543"/><use href="#c" x="354" y="535"/><use href="#c" x="369" y="543"/><use href="#c" x="357" y="546"/><use href="#c" x="553" y="458"/><use href="#c" x="503" y="482"/><use href="#c" x="479" y="485"/><use href="#c" x="462" y="466"/><use href="#c" x="469" y="513"/><use href="#c" x="455" y="526"/><use href="#c" x="458" y="543"/><use href="#c" x="428" y="436"/><use href="#c" x="337" y="485"/><use href="#c" x="329" y="477"/><use href="#c" x="348" y="472"/><use href="#c" x="348" y="460"/><use href="#c" x="343" y="454"/><use href="#c" x="319" y="462"/><use href="#c" x="422" y="544"/><use href="#c" x="424" y="541"/><use href="#c" x="420" y="532"/><use href="#c" x="417" y="525"/><use href="#c" x="408" y="525"/><use href="#c" x="402" y="513"/><use href="#c" x="402" y="537"/><use href="#c" x="402" y="536"/><use href="#c" x="409" y="534"/><use href="#c" x="382" y="533"/><use href="#c" x="393" y="531"/><use href="#c" x="387" y="532"/><use href="#c" x="393" y="521"/><use href="#c" x="383" y="517"/><use href="#c" x="386" y="524"/><use href="#c" x="375" y="523"/><use href="#c" x="376" y="526"/><use href="#c" x="386" y="547"/><use href="#c" x="388" y="546"/><use href="#c" x="388" y="540"/><use href="#c" x="383" y="539"/><use href="#c" x="383" y="538"/><use href="#c" x="383" y="537"/><use href="#c" x="384" y="535"/><use href="#c" x="368" y="536"/><use href="#c" x="375" y="540"/><use href="#c" x="374" y="531"/><use href="#c" x="372" y="530"/><use href="#c" x="375" y="529"/><use href="#c" x="370" y="530"/><use href="#c" x="386" y="508"/><use href="#c" x="387" y="505"/><use href="#c" x="377" y="510"/><use href="#c" x="374" y="511"/><use href="#c" x="362" y="510"/><use href="#c" x="371" y="498"/><use href="#c" x="373" y="489"/><use href="#c" x="370" y="518"/><use href="#c" x="368" y="521"/><use href="#c" x="368" y="520"/><use href="#c" x="369" y="548"/><use href="#c" x="373" y="544"/><use href="#c" x="369" y="542"/><use href="#c" x="363" y="546"/><use href="#c" x="363" y="539"/><use href="#c" x="356" y="537"/><use href="#c" x="364" y="525"/><use href="#c" x="354" y="525"/><use href="#c" x="357" y="527"/><use href="#c" x="354" y="530"/><use href="#c" x="352" y="533"/><use href="#c" x="353" y="522"/><use href="#c" x="345" y="520"/><use href="#c" x="340" y="522"/><use href="#c" x="344" y="527"/><use href="#c" x="341" y="527"/><use href="#c" x="348" y="503"/><use href="#c" x="349" y="488"/><use href="#c" x="349" y="547"/><use href="#c" x="338" y="513"/><use href="#c" x="332" y="514"/><use href="#c" x="325" y="512"/><use href="#c" x="332" y="518"/><use href="#c" x="323" y="518"/><use href="#c" x="321" y="519"/><use href="#c" x="316" y="520"/><use href="#c" x="312" y="521"/><use href="#c" x="313" y="518"/><use href="#c" x="318" y="514"/><use href="#c" x="315" y="514"/><use href="#c" x="312" y="510"/><use href="#c" x="315" y="502"/><use href="#c" x="327" y="494"/><use href="#c" x="315" y="493"/><use href="#c" x="324" y="525"/><use href="#c" x="321" y="524"/><use href="#c" x="323" y="527"/><use href="#c" x="315" y="525"/><use href="#c" x="312" y="528"/><use href="#c" x="331" y="529"/><use href="#c" x="332" y="531"/><use href="#c" x="340" y="529"/><use href="#c" x="341" y="532"/><use href="#c" x="328" y="530"/><use href="#c" x="351" y="532"/><use href="#c" x="317" y="533"/><use href="#c" x="313" y="528"/><use href="#c" x="319" y="527"/><use href="#c" x="322" y="528"/><use href="#c" x="333" y="533"/><use href="#c" x="316" y="531"/><use href="#c" x="342" y="534"/><use href="#c" x="320" y="531"/><use href="#c" x="320" y="530"/><use href="#c" x="330" y="531"/><use href="#c" x="327" y="533"/><use href="#c" x="316" y="529"/><use href="#c" x="312" y="529"/><use href="#c" x="342" y="532"/><use href="#c" x="317" y="527"/><use href="#c" x="336" y="529"/><use href="#c" x="343" y="532"/><use href="#c" x="334" y="531"/><use href="#c" x="324" y="526"/><use href="#c" x="337" y="528"/><use href="#c" x="337" y="527"/><use href="#c" x="321" y="529"/><use href="#c" x="322" y="531"/></g></g>
<g shape-rendering="crispEdges"><rect x="569.5" y="434.5" width="261" height="120" fill="#F4BBDD" stroke="#b3b3b3"/><g clip-path="url(#k32)"><path d="M604 527h3v1h-3zM591 528h6v1h-6zM601 528h7v1h-7zM584 529h7v1h-7zM592 529h6v1h-6zM599 529h10v1h-10zM582 530h26v1h-26zM609 530h2v1h-2zM579 531h34v1h-34zM578 532h36v1h-36zM577 533h37v1h-37zM577 534h37v1h-37zM577 535h37v1h-37zM577 536h37v1h-37zM577 537h36v1h-36zM577 538h35v1h-35zM577 539h35v1h-35zM577 540h33v1h-33zM611 540h1v1h-1zM577 541h34v1h-34zM577 542h33v1h-33zM577 543h32v1h-32zM577 544h31v1h-31zM577 545h30v1h-30zM577 546h28v1h-28zM577 547h27v1h-27zM577 548h26v1h-26zM577 549h25v1h-25zM578 550h6v1h-6zM586 550h15v1h-15z"/><use href="#c" x="615" y="548"/><use href="#c" x="617" y="548"/><use href="#c" x="616" y="538"/><use href="#c" x="616" y="528"/><use href="#c" x="615" y="521"/><use href="#c" x="618" y="543"/><use href="#c" x="614" y="537"/><use href="#c" x="619" y="533"/><use href="#c" x="621" y="526"/><use href="#c" x="616" y="546"/><use href="#c" x="626" y="523"/><use href="#c" x="619" y="538"/><use href="#c" x="617" y="530"/><use href="#c" x="616" y="524"/><use href="#c" x="615" y="523"/><use href="#c" x="613" y="521"/><use href="#c" x="625" y="531"/><use href="#c" x="618" y="532"/><use href="#c" x="613" y="522"/><use href="#c" x="818" y="458"/><use href="#c" x="756" y="436"/><use href="#c" x="715" y="466"/><use href="#c" x="698" y="482"/><use href="#c" x="691" y="485"/><use href="#c" x="680" y="485"/><use href="#c" x="676" y="460"/><use href="#c" x="665" y="454"/><use href="#c" x="642" y="472"/><use href="#c" x="627" y="477"/><use href="#c" x="596" y="462"/><use href="#c" x="709" y="535"/><use href="#c" x="706" y="489"/><use href="#c" x="676" y="525"/><use href="#c" x="652" y="531"/><use href="#c" x="643" y="546"/><use href="#c" x="643" y="543"/><use href="#c" x="640" y="534"/><use href="#c" x="633" y="532"/><use href="#c" x="630" y="533"/><use href="#c" x="642" y="526"/><use href="#c" x="650" y="520"/><use href="#c" x="643" y="519"/><use href="#c" x="637" y="517"/><use href="#c" x="646" y="513"/><use href="#c" x="642" y="512"/><use href="#c" x="633" y="511"/><use href="#c" x="646" y="508"/><use href="#c" x="641" y="503"/><use href="#c" x="643" y="498"/><use href="#c" x="641" y="488"/><use href="#c" x="630" y="505"/><use href="#c" x="626" y="513"/><use href="#c" x="620" y="518"/><use href="#c" x="613" y="518"/><use href="#c" x="613" y="513"/><use href="#c" x="607" y="514"/><use href="#c" x="616" y="510"/><use href="#c" x="614" y="510"/><use href="#c" x="607" y="510"/><use href="#c" x="615" y="494"/><use href="#c" x="602" y="493"/><use href="#c" x="598" y="502"/><use href="#c" x="600" y="518"/><use href="#c" x="592" y="518"/><use href="#c" x="589" y="519"/><use href="#c" x="596" y="521"/><use href="#c" x="594" y="514"/><use href="#c" x="589" y="514"/><use href="#c" x="630" y="525"/><use href="#c" x="630" y="523"/><use href="#c" x="626" y="526"/><use href="#c" x="623" y="524"/><use href="#c" x="623" y="520"/><use href="#c" x="620" y="521"/><use href="#c" x="611" y="520"/><use href="#c" x="611" y="522"/><use href="#c" x="617" y="523"/><use href="#c" x="613" y="525"/><use href="#c" x="623" y="548"/><use href="#c" x="611" y="548"/><use href="#c" x="613" y="546"/><use href="#c" x="620" y="543"/><use href="#c" x="615" y="542"/><use href="#c" x="622" y="540"/><use href="#c" x="626" y="537"/><use href="#c" x="626" y="536"/><use href="#c" x="620" y="537"/><use href="#c" x="613" y="536"/><use href="#c" x="608" y="537"/><use href="#c" x="609" y="544"/><use href="#c" x="609" y="541"/><use href="#c" x="624" y="530"/><use href="#c" x="624" y="529"/><use href="#c" x="620" y="531"/><use href="#c" x="615" y="530"/><use href="#c" x="607" y="525"/><use href="#c" x="600" y="525"/><use href="#c" x="605" y="526"/><use href="#c" x="594" y="525"/><use href="#c" x="589" y="527"/><use href="#c" x="583" y="527"/><use href="#c" x="579" y="528"/><use href="#c" x="577" y="530"/><use href="#c" x="577" y="532"/><use href="#c" x="577" y="534"/><use href="#c" x="577" y="536"/><use href="#c" x="577" y="537"/><use href="#c" x="595" y="525"/><use href="#c" x="605" y="523"/><use href="#c" x="600" y="526"/><use href="#c" x="616" y="525"/><use href="#c" x="615" y="526"/><use href="#c" x="624" y="524"/><use href="#c" x="586" y="527"/><use href="#c" x="624" y="525"/><use href="#c" x="580" y="528"/></g></g>
<g shape-rendering="crispEdges"><rect x="834.5" y="434.5" width="260" height="120" fill="#fff" stroke="#b3b3b3"/></g>
<g clip-path="url(#t33)"><text class="d" style="text-anchor:start" xml:space="preserve" transform="translate(0,497.9) scale(0.972,1.04)" y="0"><tspan x="856.25">Complete </tspan><tspan x="900.64">Works </tspan><tspan x="931.30">of </tspan><tspan x="944.11">Diodorus </tspan><tspan x="984.75">Sicu </tspan><tspan x="1006.56">- </tspan><tspan x="1012.93">Diodorus </tspan><tspan x="1053.88">Siculus_Split2.txt</tspan></text></g>
<g shape-rendering="crispEdges"><rect x="1099.5" y="434.5" width="260" height="120" fill="#F4BBDD" stroke="#b3b3b3"/><g clip-path="url(#k34)"><path d="M1132 529h2v1h-2zM1131 530h2v1h-2zM1134 530h5v1h-5zM1130 531h10v1h-10zM1110 532h2v1h-2zM1128 532h12v1h-12zM1108 533h7v1h-7zM1120 533h2v1h-2zM1126 533h15v1h-15zM1107 534h9v1h-9zM1117 534h3v1h-3zM1121 534h20v1h-20zM1107 535h11v1h-11zM1119 535h21v1h-21zM1107 536h34v1h-34zM1107 537h35v1h-35zM1107 538h35v1h-35zM1107 539h34v1h-34zM1107 540h33v1h-33zM1107 541h33v1h-33zM1107 542h32v1h-32zM1107 543h31v1h-31zM1107 544h29v1h-29zM1107 545h29v1h-29zM1107 546h28v1h-28zM1107 547h27v1h-27zM1107 548h27v1h-27zM1107 549h26v1h-26zM1108 550h24v1h-24z"/><use href="#c" x="1347" y="436"/><use href="#c" x="1281" y="457"/><use href="#c" x="1214" y="454"/><use href="#c" x="1199" y="460"/><use href="#c" x="1194" y="466"/><use href="#c" x="1227" y="472"/><use href="#c" x="1199" y="477"/><use href="#c" x="1245" y="482"/><use href="#c" x="1235" y="485"/><use href="#c" x="1185" y="485"/><use href="#c" x="1107" y="462"/><use href="#c" x="1263" y="489"/><use href="#c" x="1240" y="512"/><use href="#c" x="1253" y="531"/><use href="#c" x="1304" y="527"/><use href="#c" x="1107" y="493"/><use href="#c" x="1109" y="502"/><use href="#c" x="1107" y="510"/><use href="#c" x="1107" y="515"/><use href="#c" x="1108" y="517"/><use href="#c" x="1107" y="521"/><use href="#c" x="1107" y="524"/><use href="#c" x="1107" y="528"/><use href="#c" x="1107" y="532"/><use href="#c" x="1107" y="535"/><use href="#c" x="1192" y="489"/><use href="#c" x="1187" y="494"/><use href="#c" x="1183" y="498"/><use href="#c" x="1171" y="503"/><use href="#c" x="1174" y="505"/><use href="#c" x="1175" y="508"/><use href="#c" x="1170" y="510"/><use href="#c" x="1192" y="513"/><use href="#c" x="1218" y="510"/><use href="#c" x="1137" y="514"/><use href="#c" x="1148" y="514"/><use href="#c" x="1156" y="511"/><use href="#c" x="1155" y="513"/><use href="#c" x="1161" y="513"/><use href="#c" x="1151" y="518"/><use href="#c" x="1157" y="520"/><use href="#c" x="1172" y="516"/><use href="#c" x="1176" y="519"/><use href="#c" x="1124" y="518"/><use href="#c" x="1127" y="521"/><use href="#c" x="1132" y="519"/><use href="#c" x="1120" y="521"/><use href="#c" x="1122" y="526"/><use href="#c" x="1127" y="525"/><use href="#c" x="1131" y="525"/><use href="#c" x="1143" y="518"/><use href="#c" x="1142" y="520"/><use href="#c" x="1145" y="520"/><use href="#c" x="1140" y="522"/><use href="#c" x="1144" y="523"/><use href="#c" x="1139" y="525"/><use href="#c" x="1147" y="525"/><use href="#c" x="1145" y="526"/><use href="#c" x="1153" y="523"/><use href="#c" x="1154" y="525"/><use href="#c" x="1157" y="528"/><use href="#c" x="1157" y="531"/><use href="#c" x="1162" y="527"/><use href="#c" x="1169" y="526"/><use href="#c" x="1169" y="528"/><use href="#c" x="1178" y="525"/><use href="#c" x="1180" y="527"/><use href="#c" x="1179" y="529"/><use href="#c" x="1204" y="526"/><use href="#c" x="1203" y="533"/><use href="#c" x="1205" y="538"/><use href="#c" x="1163" y="534"/><use href="#c" x="1160" y="536"/><use href="#c" x="1165" y="537"/><use href="#c" x="1172" y="534"/><use href="#c" x="1178" y="541"/><use href="#c" x="1165" y="546"/><use href="#c" x="1151" y="529"/><use href="#c" x="1149" y="532"/><use href="#c" x="1147" y="533"/><use href="#c" x="1149" y="535"/><use href="#c" x="1145" y="537"/><use href="#c" x="1141" y="539"/><use href="#c" x="1145" y="544"/><use href="#c" x="1136" y="548"/><use href="#c" x="1132" y="543"/><use href="#c" x="1112" y="530"/><use href="#c" x="1135" y="519"/><use href="#c" x="1124" y="523"/><use href="#c" x="1150" y="523"/><use href="#c" x="1140" y="518"/><use href="#c" x="1125" y="523"/><use href="#c" x="1138" y="524"/><use href="#c" x="1126" y="527"/><use href="#c" x="1144" y="520"/><use href="#c" x="1140" y="521"/><use href="#c" x="1128" y="521"/><use href="#c" x="1139" y="519"/><use href="#c" x="1133" y="519"/><use href="#c" x="1146" y="528"/><use href="#c" x="1149" y="526"/><use href="#c" x="1124" y="520"/><use href="#c" x="1135" y="527"/><use href="#c" x="1132" y="526"/><use href="#c" x="1156" y="529"/><use href="#c" x="1132" y="524"/><use href="#c" x="1148" y="526"/><use href="#c" x="1136" y="518"/><use href="#c" x="1137" y="520"/><use href="#c" x="1128" y="525"/><use href="#c" x="1124" y="521"/><use href="#c" x="1144" y="518"/><use href="#c" x="1130" y="525"/><use href="#c" x="1157" y="529"/><use href="#c" x="1122" y="528"/><use href="#c" x="1117" y="529"/><use href="#c" x="1143" y="524"/><use href="#c" x="1142" y="526"/><use href="#c" x="1149" y="528"/><use href="#c" x="1134" y="524"/><use href="#c" x="1117" y="528"/><use href="#c" x="1140" y="526"/><use href="#c" x="1150" y="526"/></g></g>
<g shape-rendering="crispEdges"><rect x="40.5" y="559.5" width="260" height="120" fill="#FDFFDA" stroke="#b3b3b3"/><g clip-path="url(#k40)"><path d="M49 656h3v1h-3zM81 656h2v1h-2zM48 657h5v1h-5zM63 657h5v1h-5zM80 657h4v1h-4zM48 658h10v1h-10zM60 658h14v1h-14zM79 658h6v1h-6zM48 659h27v1h-27zM76 659h10v1h-10zM48 660h38v1h-38zM48 661h37v1h-37zM48 662h38v1h-38zM48 663h39v1h-39zM48 664h39v1h-39zM48 665h39v1h-39zM48 666h39v1h-39zM48 667h39v1h-39zM48 668h39v1h-39zM48 669h38v1h-38zM48 670h37v1h-37zM48 671h35v1h-35zM48 672h35v1h-35zM48 673h35v1h-35zM49 674h33v1h-33zM50 675h31v1h-31z"/><use href="#c" x="63" y="653"/><use href="#c" x="65" y="651"/><use href="#c" x="67" y="652"/><use href="#c" x="69" y="650"/><use href="#c" x="70" y="651"/><use href="#c" x="71" y="653"/><use href="#c" x="66" y="648"/><use href="#c" x="72" y="648"/><use href="#c" x="79" y="652"/><use href="#c" x="81" y="653"/><use href="#c" x="80" y="656"/><use href="#c" x="90" y="654"/><use href="#c" x="88" y="657"/><use href="#c" x="85" y="656"/><use href="#c" x="84" y="658"/><use href="#c" x="94" y="665"/><use href="#c" x="94" y="663"/><use href="#c" x="97" y="671"/><use href="#c" x="89" y="673"/><use href="#c" x="94" y="668"/><use href="#c" x="79" y="658"/><use href="#c" x="80" y="660"/><use href="#c" x="96" y="666"/><use href="#c" x="95" y="669"/><use href="#c" x="91" y="654"/><use href="#c" x="80" y="672"/><use href="#c" x="64" y="651"/><use href="#c" x="74" y="655"/><use href="#c" x="73" y="650"/><use href="#c" x="73" y="653"/><use href="#c" x="70" y="647"/><use href="#c" x="72" y="653"/><use href="#c" x="65" y="646"/><use href="#c" x="69" y="648"/><use href="#c" x="65" y="649"/><use href="#c" x="65" y="648"/><use href="#c" x="63" y="650"/><use href="#c" x="288" y="592"/><use href="#c" x="244" y="609"/><use href="#c" x="231" y="613"/><use href="#c" x="207" y="632"/><use href="#c" x="205" y="650"/><use href="#c" x="192" y="639"/><use href="#c" x="194" y="665"/><use href="#c" x="170" y="562"/><use href="#c" x="112" y="601"/><use href="#c" x="60" y="611"/><use href="#c" x="49" y="605"/><use href="#c" x="60" y="582"/><use href="#c" x="173" y="671"/><use href="#c" x="174" y="660"/><use href="#c" x="149" y="661"/><use href="#c" x="142" y="661"/><use href="#c" x="144" y="660"/><use href="#c" x="140" y="656"/><use href="#c" x="144" y="633"/><use href="#c" x="151" y="628"/><use href="#c" x="134" y="668"/><use href="#c" x="129" y="663"/><use href="#c" x="129" y="660"/><use href="#c" x="125" y="660"/><use href="#c" x="125" y="666"/><use href="#c" x="123" y="666"/><use href="#c" x="120" y="669"/><use href="#c" x="116" y="667"/><use href="#c" x="112" y="666"/><use href="#c" x="117" y="662"/><use href="#c" x="114" y="662"/><use href="#c" x="107" y="662"/><use href="#c" x="110" y="660"/><use href="#c" x="107" y="659"/><use href="#c" x="101" y="659"/><use href="#c" x="121" y="657"/><use href="#c" x="119" y="655"/><use href="#c" x="112" y="657"/><use href="#c" x="110" y="656"/><use href="#c" x="105" y="655"/><use href="#c" x="125" y="646"/><use href="#c" x="123" y="642"/><use href="#c" x="120" y="641"/><use href="#c" x="120" y="640"/><use href="#c" x="114" y="643"/><use href="#c" x="110" y="637"/><use href="#c" x="112" y="651"/><use href="#c" x="107" y="650"/><use href="#c" x="99" y="651"/><use href="#c" x="110" y="672"/><use href="#c" x="105" y="673"/><use href="#c" x="101" y="673"/><use href="#c" x="106" y="669"/><use href="#c" x="101" y="670"/><use href="#c" x="103" y="667"/><use href="#c" x="97" y="621"/><use href="#c" x="86" y="617"/><use href="#c" x="81" y="623"/><use href="#c" x="86" y="643"/><use href="#c" x="84" y="633"/><use href="#c" x="84" y="630"/><use href="#c" x="66" y="630"/><use href="#c" x="73" y="636"/><use href="#c" x="64" y="636"/><use href="#c" x="80" y="647"/><use href="#c" x="73" y="648"/><use href="#c" x="71" y="649"/><use href="#c" x="87" y="673"/><use href="#c" x="90" y="660"/><use href="#c" x="90" y="662"/><use href="#c" x="90" y="657"/><use href="#c" x="88" y="654"/><use href="#c" x="84" y="657"/><use href="#c" x="75" y="654"/><use href="#c" x="68" y="655"/><use href="#c" x="66" y="652"/><use href="#c" x="60" y="651"/><use href="#c" x="62" y="654"/><use href="#c" x="59" y="655"/><use href="#c" x="51" y="653"/><use href="#c" x="49" y="655"/><use href="#c" x="51" y="657"/><use href="#c" x="48" y="660"/><use href="#c" x="53" y="656"/><use href="#c" x="51" y="649"/><use href="#c" x="58" y="647"/><use href="#c" x="56" y="646"/><use href="#c" x="53" y="644"/><use href="#c" x="51" y="644"/><use href="#c" x="58" y="642"/><use href="#c" x="56" y="641"/><use href="#c" x="60" y="639"/><use href="#c" x="48" y="640"/><use href="#c" x="49" y="628"/><use href="#c" x="49" y="627"/><use href="#c" x="50" y="658"/><use href="#c" x="61" y="653"/><use href="#c" x="72" y="654"/><use href="#c" x="71" y="656"/><use href="#c" x="89" y="657"/><use href="#c" x="53" y="658"/><use href="#c" x="52" y="654"/><use href="#c" x="87" y="661"/><use href="#c" x="71" y="654"/><use href="#c" x="65" y="657"/><use href="#c" x="89" y="658"/><use href="#c" x="109" y="666"/><use href="#c" x="104" y="663"/><use href="#c" x="99" y="660"/><use href="#c" x="103" y="658"/><use href="#c" x="112" y="670"/><use href="#c" x="92" y="672"/></g></g>
<g shape-rendering="crispEdges"><rect x="305.5" y="559.5" width="260" height="120" fill="#FDFFDA" stroke="#b3b3b3"/><g clip-path="url(#k41)"><path d="M314 656h4v1h-4zM345 656h2v1h-2zM313 657h6v1h-6zM330 657h3v1h-3zM334 657h3v1h-3zM344 657h4v1h-4zM313 658h9v1h-9zM329 658h9v1h-9zM343 658h6v1h-6zM313 659h36v1h-36zM313 660h37v1h-37zM313 661h35v1h-35zM349 661h1v1h-1zM313 662h36v1h-36zM313 663h36v1h-36zM313 664h37v1h-37zM313 665h38v1h-38zM313 666h38v1h-38zM313 667h37v1h-37zM313 668h38v1h-38zM313 669h38v1h-38zM313 670h34v1h-34zM348 670h2v1h-2zM313 671h33v1h-33zM347 671h2v1h-2zM313 672h35v1h-35zM313 673h34v1h-34zM313 674h33v1h-33zM314 675h31v1h-31z"/><use href="#c" x="330" y="653"/><use href="#c" x="329" y="651"/><use href="#c" x="331" y="652"/><use href="#c" x="332" y="650"/><use href="#c" x="333" y="651"/><use href="#c" x="337" y="653"/><use href="#c" x="330" y="648"/><use href="#c" x="336" y="648"/><use href="#c" x="344" y="652"/><use href="#c" x="347" y="653"/><use href="#c" x="345" y="656"/><use href="#c" x="355" y="654"/><use href="#c" x="351" y="657"/><use href="#c" x="350" y="656"/><use href="#c" x="349" y="658"/><use href="#c" x="357" y="665"/><use href="#c" x="356" y="663"/><use href="#c" x="361" y="671"/><use href="#c" x="351" y="673"/><use href="#c" x="346" y="658"/><use href="#c" x="356" y="668"/><use href="#c" x="343" y="658"/><use href="#c" x="347" y="658"/><use href="#c" x="344" y="660"/><use href="#c" x="360" y="666"/><use href="#c" x="360" y="669"/><use href="#c" x="356" y="654"/><use href="#c" x="345" y="672"/><use href="#c" x="336" y="655"/><use href="#c" x="337" y="650"/><use href="#c" x="339" y="653"/><use href="#c" x="335" y="647"/><use href="#c" x="336" y="653"/><use href="#c" x="330" y="646"/><use href="#c" x="333" y="648"/><use href="#c" x="329" y="649"/><use href="#c" x="329" y="648"/><use href="#c" x="326" y="650"/><use href="#c" x="553" y="592"/><use href="#c" x="503" y="609"/><use href="#c" x="479" y="613"/><use href="#c" x="462" y="632"/><use href="#c" x="469" y="650"/><use href="#c" x="455" y="639"/><use href="#c" x="458" y="665"/><use href="#c" x="428" y="562"/><use href="#c" x="373" y="601"/><use href="#c" x="323" y="611"/><use href="#c" x="313" y="605"/><use href="#c" x="328" y="582"/><use href="#c" x="422" y="671"/><use href="#c" x="424" y="660"/><use href="#c" x="421" y="661"/><use href="#c" x="408" y="661"/><use href="#c" x="402" y="660"/><use href="#c" x="402" y="656"/><use href="#c" x="402" y="633"/><use href="#c" x="417" y="628"/><use href="#c" x="409" y="668"/><use href="#c" x="393" y="663"/><use href="#c" x="393" y="660"/><use href="#c" x="388" y="660"/><use href="#c" x="388" y="666"/><use href="#c" x="383" y="666"/><use href="#c" x="387" y="669"/><use href="#c" x="382" y="667"/><use href="#c" x="373" y="666"/><use href="#c" x="383" y="662"/><use href="#c" x="377" y="662"/><use href="#c" x="372" y="662"/><use href="#c" x="374" y="660"/><use href="#c" x="371" y="659"/><use href="#c" x="365" y="659"/><use href="#c" x="386" y="657"/><use href="#c" x="375" y="655"/><use href="#c" x="375" y="657"/><use href="#c" x="372" y="656"/><use href="#c" x="368" y="655"/><use href="#c" x="388" y="646"/><use href="#c" x="383" y="642"/><use href="#c" x="387" y="641"/><use href="#c" x="387" y="640"/><use href="#c" x="377" y="643"/><use href="#c" x="373" y="637"/><use href="#c" x="375" y="651"/><use href="#c" x="370" y="650"/><use href="#c" x="364" y="651"/><use href="#c" x="374" y="672"/><use href="#c" x="368" y="673"/><use href="#c" x="363" y="673"/><use href="#c" x="368" y="669"/><use href="#c" x="364" y="670"/><use href="#c" x="366" y="667"/><use href="#c" x="359" y="621"/><use href="#c" x="350" y="617"/><use href="#c" x="344" y="623"/><use href="#c" x="351" y="643"/><use href="#c" x="345" y="633"/><use href="#c" x="348" y="630"/><use href="#c" x="329" y="630"/><use href="#c" x="335" y="636"/><use href="#c" x="328" y="636"/><use href="#c" x="343" y="647"/><use href="#c" x="337" y="648"/><use href="#c" x="335" y="649"/><use href="#c" x="349" y="673"/><use href="#c" x="354" y="660"/><use href="#c" x="355" y="662"/><use href="#c" x="355" y="657"/><use href="#c" x="352" y="654"/><use href="#c" x="350" y="654"/><use href="#c" x="347" y="657"/><use href="#c" x="344" y="656"/><use href="#c" x="343" y="653"/><use href="#c" x="342" y="652"/><use href="#c" x="337" y="654"/><use href="#c" x="331" y="655"/><use href="#c" x="332" y="652"/><use href="#c" x="324" y="651"/><use href="#c" x="327" y="654"/><use href="#c" x="324" y="655"/><use href="#c" x="315" y="653"/><use href="#c" x="314" y="655"/><use href="#c" x="317" y="657"/><use href="#c" x="313" y="660"/><use href="#c" x="318" y="656"/><use href="#c" x="317" y="649"/><use href="#c" x="323" y="647"/><use href="#c" x="320" y="646"/><use href="#c" x="318" y="644"/><use href="#c" x="316" y="644"/><use href="#c" x="322" y="642"/><use href="#c" x="320" y="641"/><use href="#c" x="323" y="639"/><use href="#c" x="312" y="640"/><use href="#c" x="314" y="628"/><use href="#c" x="315" y="627"/><use href="#c" x="317" y="658"/><use href="#c" x="327" y="653"/><use href="#c" x="335" y="654"/><use href="#c" x="335" y="656"/><use href="#c" x="350" y="657"/><use href="#c" x="316" y="658"/><use href="#c" x="316" y="654"/><use href="#c" x="350" y="661"/><use href="#c" x="336" y="654"/><use href="#c" x="330" y="657"/><use href="#c" x="353" y="658"/><use href="#c" x="312" y="660"/><use href="#c" x="372" y="666"/><use href="#c" x="370" y="663"/><use href="#c" x="363" y="660"/><use href="#c" x="367" y="658"/><use href="#c" x="375" y="670"/><use href="#c" x="353" y="672"/></g></g>
<g shape-rendering="crispEdges"><rect x="569.5" y="559.5" width="261" height="120" fill="#D2F4F2" stroke="#b3b3b3"/><g clip-path="url(#k42)"><path d="M600 652h2v1h-2zM598 653h2v1h-2zM602 653h1v1h-1zM597 654h6v1h-6zM596 655h9v1h-9zM592 656h2v1h-2zM595 656h11v1h-11zM589 657h18v1h-18zM586 658h3v1h-3zM590 658h15v1h-15zM606 658h1v1h-1zM579 659h8v1h-8zM588 659h18v1h-18zM578 660h29v1h-29zM577 661h30v1h-30zM577 662h31v1h-31zM577 663h32v1h-32zM577 664h32v1h-32zM577 665h32v1h-32zM577 666h32v1h-32zM577 667h32v1h-32zM577 668h33v1h-33zM577 669h33v1h-33zM577 670h33v1h-33zM577 671h33v1h-33zM577 672h33v1h-33zM577 673h33v1h-33zM577 674h32v1h-32zM578 675h30v1h-30z"/><use href="#c" x="612" y="650"/><use href="#c" x="620" y="665"/><use href="#c" x="614" y="659"/><use href="#c" x="612" y="651"/><use href="#c" x="609" y="654"/><use href="#c" x="626" y="661"/><use href="#c" x="621" y="666"/><use href="#c" x="617" y="663"/><use href="#c" x="613" y="661"/><use href="#c" x="623" y="667"/><use href="#c" x="615" y="648"/><use href="#c" x="621" y="652"/><use href="#c" x="618" y="660"/><use href="#c" x="618" y="659"/><use href="#c" x="627" y="666"/><use href="#c" x="620" y="660"/><use href="#c" x="624" y="669"/><use href="#c" x="610" y="657"/><use href="#c" x="615" y="668"/><use href="#c" x="611" y="663"/><use href="#c" x="608" y="673"/><use href="#c" x="610" y="658"/><use href="#c" x="607" y="660"/><use href="#c" x="609" y="668"/><use href="#c" x="615" y="669"/><use href="#c" x="619" y="673"/><use href="#c" x="613" y="666"/><use href="#c" x="610" y="665"/><use href="#c" x="617" y="669"/><use href="#c" x="614" y="664"/><use href="#c" x="608" y="656"/><use href="#c" x="613" y="673"/><use href="#c" x="618" y="670"/><use href="#c" x="614" y="671"/><use href="#c" x="818" y="592"/><use href="#c" x="756" y="562"/><use href="#c" x="715" y="632"/><use href="#c" x="709" y="655"/><use href="#c" x="706" y="601"/><use href="#c" x="698" y="609"/><use href="#c" x="642" y="611"/><use href="#c" x="581" y="605"/><use href="#c" x="583" y="582"/><use href="#c" x="691" y="613"/><use href="#c" x="680" y="636"/><use href="#c" x="676" y="630"/><use href="#c" x="676" y="628"/><use href="#c" x="665" y="623"/><use href="#c" x="650" y="655"/><use href="#c" x="646" y="650"/><use href="#c" x="652" y="673"/><use href="#c" x="643" y="672"/><use href="#c" x="645" y="669"/><use href="#c" x="640" y="668"/><use href="#c" x="643" y="663"/><use href="#c" x="630" y="670"/><use href="#c" x="634" y="661"/><use href="#c" x="630" y="661"/><use href="#c" x="642" y="643"/><use href="#c" x="637" y="642"/><use href="#c" x="630" y="642"/><use href="#c" x="647" y="641"/><use href="#c" x="643" y="641"/><use href="#c" x="641" y="639"/><use href="#c" x="643" y="637"/><use href="#c" x="641" y="633"/><use href="#c" x="641" y="617"/><use href="#c" x="630" y="651"/><use href="#c" x="633" y="650"/><use href="#c" x="622" y="649"/><use href="#c" x="613" y="648"/><use href="#c" x="613" y="651"/><use href="#c" x="613" y="653"/><use href="#c" x="622" y="640"/><use href="#c" x="626" y="633"/><use href="#c" x="626" y="630"/><use href="#c" x="615" y="636"/><use href="#c" x="615" y="621"/><use href="#c" x="615" y="643"/><use href="#c" x="607" y="642"/><use href="#c" x="598" y="644"/><use href="#c" x="589" y="644"/><use href="#c" x="589" y="646"/><use href="#c" x="595" y="647"/><use href="#c" x="589" y="648"/><use href="#c" x="585" y="647"/><use href="#c" x="600" y="649"/><use href="#c" x="598" y="649"/><use href="#c" x="598" y="651"/><use href="#c" x="592" y="652"/><use href="#c" x="589" y="639"/><use href="#c" x="579" y="640"/><use href="#c" x="585" y="628"/><use href="#c" x="581" y="627"/><use href="#c" x="626" y="666"/><use href="#c" x="623" y="666"/><use href="#c" x="622" y="663"/><use href="#c" x="625" y="662"/><use href="#c" x="617" y="660"/><use href="#c" x="624" y="657"/><use href="#c" x="626" y="656"/><use href="#c" x="620" y="656"/><use href="#c" x="617" y="667"/><use href="#c" x="613" y="671"/><use href="#c" x="623" y="673"/><use href="#c" x="607" y="653"/><use href="#c" x="609" y="652"/><use href="#c" x="602" y="654"/><use href="#c" x="598" y="655"/><use href="#c" x="594" y="656"/><use href="#c" x="589" y="654"/><use href="#c" x="585" y="655"/><use href="#c" x="579" y="657"/><use href="#c" x="583" y="658"/><use href="#c" x="579" y="659"/><use href="#c" x="577" y="660"/><use href="#c" x="611" y="652"/><use href="#c" x="615" y="665"/><use href="#c" x="599" y="656"/><use href="#c" x="619" y="659"/><use href="#c" x="615" y="661"/><use href="#c" x="607" y="655"/><use href="#c" x="595" y="654"/><use href="#c" x="584" y="656"/><use href="#c" x="627" y="665"/><use href="#c" x="618" y="671"/><use href="#c" x="580" y="659"/><use href="#c" x="590" y="657"/><use href="#c" x="612" y="656"/><use href="#c" x="615" y="653"/><use href="#c" x="585" y="657"/><use href="#c" x="610" y="653"/><use href="#c" x="577" y="657"/><use href="#c" x="624" y="655"/><use href="#c" x="608" y="653"/><use href="#c" x="619" y="658"/><use href="#c" x="625" y="657"/><use href="#c" x="613" y="656"/><use href="#c" x="577" y="658"/></g></g>
<g shape-rendering="crispEdges"><rect x="834.5" y="559.5" width="260" height="120" fill="#F4BBDD" stroke="#b3b3b3"/><g clip-path="url(#k43)"><path d="M879 652h2v1h-2zM878 653h2v1h-2zM881 653h2v1h-2zM871 654h3v1h-3zM877 654h7v1h-7zM868 655h16v1h-16zM866 656h18v1h-18zM864 657h20v1h-20zM863 658h22v1h-22zM862 659h24v1h-24zM856 660h30v1h-30zM855 661h30v1h-30zM854 662h32v1h-32zM853 663h1v1h-1zM855 663h31v1h-31zM849 664h36v1h-36zM843 665h3v1h-3zM848 665h36v1h-36zM842 666h40v1h-40zM842 667h39v1h-39zM842 668h40v1h-40zM842 669h40v1h-40zM842 670h41v1h-41zM842 671h42v1h-42zM842 672h42v1h-42zM842 673h41v1h-41zM842 674h37v1h-37zM880 674h2v1h-2zM843 675h38v1h-38z"/><use href="#c" x="889" y="661"/><use href="#c" x="891" y="662"/><use href="#c" x="890" y="663"/><use href="#c" x="889" y="655"/><use href="#c" x="883" y="649"/><use href="#c" x="884" y="666"/><use href="#c" x="882" y="668"/><use href="#c" x="893" y="656"/><use href="#c" x="882" y="650"/><use href="#c" x="889" y="657"/><use href="#c" x="887" y="659"/><use href="#c" x="884" y="653"/><use href="#c" x="893" y="660"/><use href="#c" x="885" y="668"/><use href="#c" x="890" y="653"/><use href="#c" x="1083" y="562"/><use href="#c" x="1038" y="592"/><use href="#c" x="1045" y="623"/><use href="#c" x="1032" y="630"/><use href="#c" x="1019" y="632"/><use href="#c" x="1006" y="617"/><use href="#c" x="995" y="630"/><use href="#c" x="984" y="609"/><use href="#c" x="978" y="613"/><use href="#c" x="978" y="636"/><use href="#c" x="1027" y="673"/><use href="#c" x="969" y="601"/><use href="#c" x="919" y="611"/><use href="#c" x="878" y="605"/><use href="#c" x="887" y="582"/><use href="#c" x="960" y="673"/><use href="#c" x="941" y="672"/><use href="#c" x="923" y="673"/><use href="#c" x="913" y="673"/><use href="#c" x="908" y="672"/><use href="#c" x="900" y="673"/><use href="#c" x="893" y="673"/><use href="#c" x="884" y="673"/><use href="#c" x="877" y="673"/><use href="#c" x="870" y="673"/><use href="#c" x="969" y="633"/><use href="#c" x="958" y="636"/><use href="#c" x="949" y="637"/><use href="#c" x="938" y="643"/><use href="#c" x="934" y="642"/><use href="#c" x="928" y="641"/><use href="#c" x="923" y="643"/><use href="#c" x="917" y="633"/><use href="#c" x="923" y="621"/><use href="#c" x="915" y="659"/><use href="#c" x="915" y="654"/><use href="#c" x="922" y="650"/><use href="#c" x="917" y="650"/><use href="#c" x="917" y="648"/><use href="#c" x="906" y="652"/><use href="#c" x="902" y="649"/><use href="#c" x="910" y="642"/><use href="#c" x="904" y="641"/><use href="#c" x="906" y="665"/><use href="#c" x="901" y="663"/><use href="#c" x="904" y="661"/><use href="#c" x="900" y="667"/><use href="#c" x="889" y="666"/><use href="#c" x="891" y="663"/><use href="#c" x="891" y="661"/><use href="#c" x="906" y="656"/><use href="#c" x="902" y="656"/><use href="#c" x="902" y="655"/><use href="#c" x="897" y="657"/><use href="#c" x="895" y="655"/><use href="#c" x="891" y="658"/><use href="#c" x="891" y="654"/><use href="#c" x="895" y="651"/><use href="#c" x="891" y="651"/><use href="#c" x="884" y="649"/><use href="#c" x="878" y="649"/><use href="#c" x="887" y="647"/><use href="#c" x="889" y="644"/><use href="#c" x="884" y="644"/><use href="#c" x="891" y="640"/><use href="#c" x="887" y="639"/><use href="#c" x="882" y="639"/><use href="#c" x="889" y="628"/><use href="#c" x="874" y="628"/><use href="#c" x="863" y="627"/><use href="#c" x="871" y="647"/><use href="#c" x="867" y="648"/><use href="#c" x="865" y="646"/><use href="#c" x="871" y="642"/><use href="#c" x="856" y="640"/><use href="#c" x="845" y="646"/><use href="#c" x="882" y="652"/><use href="#c" x="876" y="653"/><use href="#c" x="874" y="654"/><use href="#c" x="869" y="653"/><use href="#c" x="865" y="655"/><use href="#c" x="861" y="657"/><use href="#c" x="850" y="655"/><use href="#c" x="842" y="659"/><use href="#c" x="852" y="661"/><use href="#c" x="881" y="670"/><use href="#c" x="903" y="660"/><use href="#c" x="894" y="664"/><use href="#c" x="895" y="653"/><use href="#c" x="906" y="657"/><use href="#c" x="895" y="664"/><use href="#c" x="893" y="658"/><use href="#c" x="887" y="664"/><use href="#c" x="901" y="655"/><use href="#c" x="899" y="657"/><use href="#c" x="903" y="658"/><use href="#c" x="905" y="661"/><use href="#c" x="886" y="664"/><use href="#c" x="884" y="655"/><use href="#c" x="888" y="653"/><use href="#c" x="901" y="665"/><use href="#c" x="888" y="659"/><use href="#c" x="888" y="661"/><use href="#c" x="894" y="661"/><use href="#c" x="889" y="653"/><use href="#c" x="906" y="659"/><use href="#c" x="902" y="659"/><use href="#c" x="900" y="665"/><use href="#c" x="907" y="656"/></g></g>
<g shape-rendering="crispEdges"><rect x="1099.5" y="559.5" width="260" height="120" fill="#fff" stroke="#b3b3b3"/></g>
<g clip-path="url(#t44)"><text class="d" style="text-anchor:start" xml:space="preserve" transform="translate(0,622.9) scale(0.972,1.04)" y="0"><tspan x="1128.67">Complete </tspan><tspan x="1173.06">Works </tspan><tspan x="1203.72">of </tspan><tspan x="1216.53">Diodorus </tspan><tspan x="1257.17">Sicu </tspan><tspan x="1278.98">- </tspan><tspan x="1285.36">Diodorus </tspan><tspan x="1326.30">Siculus_Split1.txt</tspan></text></g>
<g shape-rendering="crispEdges" stroke="#000" stroke-width="1"><line x1="50.5" y1="680" x2="50.5" y2="685"/><line x1="96.5" y1="680" x2="96.5" y2="685"/><line x1="143.5" y1="680" x2="143.5" y2="685"/><line x1="190.5" y1="680" x2="190.5" y2="685"/><line x1="237.5" y1="680" x2="237.5" y2="685"/><line x1="284.5" y1="680" x2="284.5" y2="685"/></g><text class="t" transform="translate(50.2,697) scale(.95,1.08)">0</text><text class="t" transform="translate(96.2,697) scale(.95,1.08)">100</text><text class="t" transform="translate(143.2,697) scale(.95,1.08)">200</text><text class="t" transform="translate(190.2,697) scale(.95,1.08)">300</text><text class="t" transform="translate(237.2,697) scale(.95,1.08)">400</text><text class="t" transform="translate(284.2,697) scale(.95,1.08)">500</text>
<g shape-rendering="crispEdges" stroke="#000" stroke-width="1"><line x1="314.5" y1="54" x2="314.5" y2="59"/><line x1="353.5" y1="54" x2="353.5" y2="59"/><line x1="393.5" y1="54" x2="393.5" y2="59"/><line x1="432.5" y1="54" x2="432.5" y2="59"/><line x1="471.5" y1="54" x2="471.5" y2="59"/><line x1="510.5" y1="54" x2="510.5" y2="59"/><line x1="549.5" y1="54" x2="549.5" y2="59"/></g><text class="t" transform="translate(314.2,48) scale(.95,1.08)">0</text><text class="t" transform="translate(353.2,48) scale(.95,1.08)">100</text><text class="t" transform="translate(393.2,48) scale(.95,1.08)">200</text><text class="t" transform="translate(432.2,48) scale(.95,1.08)">300</text><text class="t" transform="translate(471.2,48) scale(.95,1.08)">400</text><text class="t" transform="translate(510.2,48) scale(.95,1.08)">500</text><text class="t" transform="translate(549.2,48) scale(.95,1.08)">600</text>
<g shape-rendering="crispEdges" stroke="#000" stroke-width="1"><line x1="579.5" y1="680" x2="579.5" y2="685"/><line x1="646.5" y1="680" x2="646.5" y2="685"/><line x1="713.5" y1="680" x2="713.5" y2="685"/><line x1="779.5" y1="680" x2="779.5" y2="685"/></g><text class="t" transform="translate(579.2,697) scale(.95,1.08)">0</text><text class="t" transform="translate(646.2,697) scale(.95,1.08)">100</text><text class="t" transform="translate(713.2,697) scale(.95,1.08)">200</text><text class="t" transform="translate(779.2,697) scale(.95,1.08)">300</text>
<g shape-rendering="crispEdges" stroke="#000" stroke-width="1"><line x1="844.5" y1="54" x2="844.5" y2="59"/><line x1="882.5" y1="54" x2="882.5" y2="59"/><line x1="920.5" y1="54" x2="920.5" y2="59"/><line x1="958.5" y1="54" x2="958.5" y2="59"/><line x1="996.5" y1="54" x2="996.5" y2="59"/><line x1="1034.5" y1="54" x2="1034.5" y2="59"/><line x1="1072.5" y1="54" x2="1072.5" y2="59"/></g><text class="t" transform="translate(844.2,48) scale(.95,1.08)">0</text><text class="t" transform="translate(882.2,48) scale(.95,1.08)">100</text><text class="t" transform="translate(920.2,48) scale(.95,1.08)">200</text><text class="t" transform="translate(958.2,48) scale(.95,1.08)">300</text><text class="t" transform="translate(996.2,48) scale(.95,1.08)">400</text><text class="t" transform="translate(1034.2,48) scale(.95,1.08)">500</text><text class="t" transform="translate(1072.2,48) scale(.95,1.08)">600</text>
<g shape-rendering="crispEdges" stroke="#000" stroke-width="1"><line x1="1109.5" y1="680" x2="1109.5" y2="685"/><line x1="1169.5" y1="680" x2="1169.5" y2="685"/><line x1="1229.5" y1="680" x2="1229.5" y2="685"/><line x1="1290.5" y1="680" x2="1290.5" y2="685"/><line x1="1350.5" y1="680" x2="1350.5" y2="685"/></g><text class="t" transform="translate(1109.2,697) scale(.95,1.08)">0</text><text class="t" transform="translate(1169.2,697) scale(.95,1.08)">200</text><text class="t" transform="translate(1229.2,697) scale(.95,1.08)">400</text><text class="t" transform="translate(1290.2,697) scale(.95,1.08)">600</text><text class="t" transform="translate(1350.2,697) scale(.95,1.08)">800</text>
<g shape-rendering="crispEdges" stroke="#000" stroke-width="1"><line x1="1360" y1="175.5" x2="1365" y2="175.5"/><line x1="1360" y1="153.5" x2="1365" y2="153.5"/><line x1="1360" y1="131.5" x2="1365" y2="131.5"/><line x1="1360" y1="110.5" x2="1365" y2="110.5"/><line x1="1360" y1="88.5" x2="1365" y2="88.5"/><line x1="1360" y1="66.5" x2="1365" y2="66.5"/></g><text class="t" transform="translate(1377,175.8) rotate(-90) scale(.95,1.08)">0</text><text class="t" transform="translate(1377,153.8) rotate(-90) scale(.95,1.08)">100</text><text class="t" transform="translate(1377,131.8) rotate(-90) scale(.95,1.08)">200</text><text class="t" transform="translate(1377,110.8) rotate(-90) scale(.95,1.08)">300</text><text class="t" transform="translate(1377,88.8) rotate(-90) scale(.95,1.08)">400</text><text class="t" transform="translate(1377,66.8) rotate(-90) scale(.95,1.08)">500</text>
<g shape-rendering="crispEdges" stroke="#000" stroke-width="1"><line x1="35" y1="300.5" x2="40" y2="300.5"/><line x1="35" y1="282.5" x2="40" y2="282.5"/><line x1="35" y1="263.5" x2="40" y2="263.5"/><line x1="35" y1="245.5" x2="40" y2="245.5"/><line x1="35" y1="227.5" x2="40" y2="227.5"/><line x1="35" y1="209.5" x2="40" y2="209.5"/><line x1="35" y1="191.5" x2="40" y2="191.5"/></g><text class="t" transform="translate(29,300.8) rotate(-90) scale(.95,1.08)">0</text><text class="t" transform="translate(29,282.8) rotate(-90) scale(.95,1.08)">100</text><text class="t" transform="translate(29,245.8) rotate(-90) scale(.95,1.08)">300</text><text class="t" transform="translate(29,209.8) rotate(-90) scale(.95,1.08)">500</text>
<g shape-rendering="crispEdges" stroke="#000" stroke-width="1"><line x1="1360" y1="425.5" x2="1365" y2="425.5"/><line x1="1360" y1="394.5" x2="1365" y2="394.5"/><line x1="1360" y1="363.5" x2="1365" y2="363.5"/><line x1="1360" y1="332.5" x2="1365" y2="332.5"/></g><text class="t" transform="translate(1377,425.8) rotate(-90) scale(.95,1.08)">0</text><text class="t" transform="translate(1377,394.8) rotate(-90) scale(.95,1.08)">100</text><text class="t" transform="translate(1377,363.8) rotate(-90) scale(.95,1.08)">200</text><text class="t" transform="translate(1377,332.8) rotate(-90) scale(.95,1.08)">300</text>
<g shape-rendering="crispEdges" stroke="#000" stroke-width="1"><line x1="35" y1="550.5" x2="40" y2="550.5"/><line x1="35" y1="532.5" x2="40" y2="532.5"/><line x1="35" y1="515.5" x2="40" y2="515.5"/><line x1="35" y1="497.5" x2="40" y2="497.5"/><line x1="35" y1="479.5" x2="40" y2="479.5"/><line x1="35" y1="462.5" x2="40" y2="462.5"/><line x1="35" y1="444.5" x2="40" y2="444.5"/></g><text class="t" transform="translate(29,550.8) rotate(-90) scale(.95,1.08)">0</text><text class="t" transform="translate(29,532.8) rotate(-90) scale(.95,1.08)">100</text><text class="t" transform="translate(29,497.8) rotate(-90) scale(.95,1.08)">300</text><text class="t" transform="translate(29,462.8) rotate(-90) scale(.95,1.08)">500</text>
<g shape-rendering="crispEdges" stroke="#000" stroke-width="1"><line x1="1360" y1="675.5" x2="1365" y2="675.5"/><line x1="1360" y1="647.5" x2="1365" y2="647.5"/><line x1="1360" y1="619.5" x2="1365" y2="619.5"/><line x1="1360" y1="591.5" x2="1365" y2="591.5"/><line x1="1360" y1="563.5" x2="1365" y2="563.5"/></g><text class="t" transform="translate(1377,675.8) rotate(-90) scale(.95,1.08)">0</text><text class="t" transform="translate(1377,647.8) rotate(-90) scale(.95,1.08)">200</text><text class="t" transform="translate(1377,619.8) rotate(-90) scale(.95,1.08)">400</text><text class="t" transform="translate(1377,591.8) rotate(-90) scale(.95,1.08)">600</text><text class="t" transform="translate(1377,563.8) rotate(-90) scale(.95,1.08)">800</text>
</svg>
</body></html>
